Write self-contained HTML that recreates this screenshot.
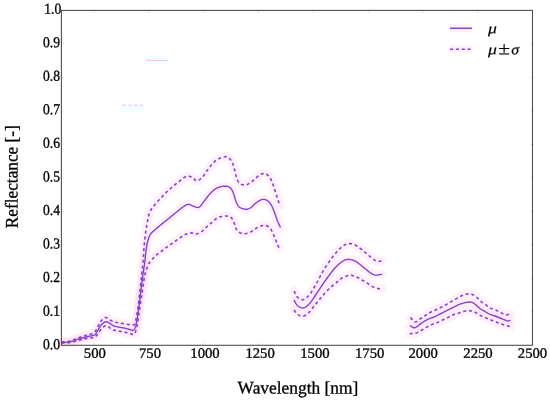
<!DOCTYPE html>
<html><head><meta charset="utf-8"><title>Reflectance</title>
<style>html,body{margin:0;padding:0;background:#fff}svg{display:block}</style></head>
<body>
<svg text-rendering="geometricPrecision" width="550" height="400" viewBox="0 0 550 400">
<rect width="550" height="400" fill="#fff"/>
<g fill="none" stroke="#ffd9f7" stroke-opacity="0.38" stroke-width="9" stroke-linecap="round" stroke-linejoin="round"><path d="M61.50 342.50 L62.32 342.47 L63.16 342.45 L64.00 342.43 L64.84 342.41 L65.67 342.38 L66.48 342.34 L67.26 342.28 L68.00 342.20 L68.70 342.10 L69.36 341.98 L69.98 341.84 L70.59 341.69 L71.19 341.53 L71.79 341.36 L72.39 341.18 L73.00 341.00 L73.62 340.80 L74.25 340.58 L74.88 340.35 L75.50 340.11 L76.12 339.87 L76.75 339.64 L77.38 339.41 L78.00 339.20 L78.62 339.01 L79.25 338.82 L79.88 338.64 L80.50 338.47 L81.12 338.30 L81.75 338.13 L82.38 337.97 L83.00 337.80 L83.62 337.63 L84.25 337.46 L84.88 337.29 L85.50 337.12 L86.12 336.96 L86.75 336.80 L87.38 336.65 L88.00 336.50 L88.64 336.36 L89.31 336.24 L89.98 336.13 L90.66 336.01 L91.31 335.90 L91.93 335.78 L92.49 335.65 L93.00 335.50 L93.43 335.35 L93.80 335.22 L94.12 335.08 L94.41 334.94 L94.67 334.77 L94.93 334.56 L95.20 334.31 L95.50 334.00 L95.81 333.62 L96.12 333.18 L96.44 332.68 L96.75 332.16 L97.06 331.61 L97.38 331.06 L97.69 330.52 L98.00 330.00 L98.31 329.49 L98.62 328.97 L98.94 328.45 L99.25 327.93 L99.56 327.41 L99.88 326.92 L100.19 326.44 L100.50 326.00 L100.81 325.58 L101.11 325.19 L101.42 324.80 L101.72 324.44 L102.03 324.10 L102.34 323.78 L102.66 323.48 L103.00 323.20 L103.35 322.93 L103.71 322.67 L104.09 322.43 L104.47 322.21 L104.85 322.01 L105.24 321.86 L105.62 321.75 L106.00 321.70 L106.37 321.70 L106.73 321.75 L107.08 321.85 L107.44 321.99 L107.80 322.16 L108.18 322.35 L108.58 322.57 L109.00 322.80 L109.45 323.07 L109.91 323.39 L110.38 323.75 L110.88 324.12 L111.38 324.51 L111.91 324.87 L112.45 325.21 L113.00 325.50 L113.57 325.75 L114.16 325.97 L114.76 326.17 L115.38 326.36 L116.01 326.53 L116.66 326.69 L117.32 326.84 L118.00 327.00 L118.70 327.14 L119.43 327.27 L120.18 327.39 L120.94 327.49 L121.71 327.60 L122.48 327.72 L123.24 327.85 L124.00 328.00 L124.77 328.18 L125.57 328.38 L126.38 328.59 L127.19 328.81 L127.97 329.03 L128.71 329.24 L129.39 329.43 L130.00 329.60 L130.53 329.76 L130.98 329.93 L131.39 330.10 L131.75 330.25 L132.08 330.37 L132.39 330.44 L132.69 330.46 L133.00 330.40 L133.30 330.29 L133.57 330.16 L133.82 329.98 L134.06 329.75 L134.29 329.45 L134.52 329.07 L134.76 328.59 L135.00 328.00 L135.25 327.31 L135.50 326.53 L135.75 325.67 L136.00 324.73 L136.25 323.69 L136.50 322.55 L136.75 321.33 L137.00 320.00 L137.25 318.55 L137.50 316.97 L137.75 315.28 L138.00 313.50 L138.25 311.66 L138.50 309.78 L138.75 307.89 L139.00 306.00 L139.25 304.10 L139.50 302.14 L139.75 300.15 L140.00 298.12 L140.25 296.09 L140.50 294.05 L140.75 292.01 L141.00 290.00 L141.25 287.96 L141.51 285.86 L141.77 283.74 L142.03 281.62 L142.29 279.56 L142.54 277.58 L142.77 275.71 L143.00 274.00 L143.21 272.48 L143.41 271.15 L143.60 269.94 L143.78 268.81 L143.96 267.71 L144.14 266.57 L144.32 265.35 L144.50 264.00 L144.69 262.49 L144.88 260.87 L145.06 259.17 L145.25 257.44 L145.44 255.71 L145.62 254.04 L145.81 252.45 L146.00 251.00 L146.18 249.67 L146.35 248.42 L146.52 247.24 L146.69 246.12 L146.86 245.05 L147.05 244.02 L147.26 243.00 L147.50 242.00 L147.76 241.01 L148.04 240.03 L148.34 239.07 L148.66 238.16 L148.98 237.28 L149.32 236.46 L149.66 235.69 L150.00 235.00 L150.32 234.41 L150.62 233.94 L150.91 233.54 L151.22 233.19 L151.56 232.84 L151.96 232.47 L152.43 232.03 L153.00 231.50 L153.68 230.87 L154.45 230.19 L155.29 229.46 L156.19 228.69 L157.13 227.90 L158.09 227.09 L159.05 226.29 L160.00 225.50 L160.95 224.71 L161.93 223.91 L162.93 223.10 L163.94 222.28 L164.96 221.46 L165.98 220.64 L166.99 219.82 L168.00 219.00 L169.01 218.18 L170.02 217.35 L171.04 216.52 L172.06 215.69 L173.07 214.86 L174.07 214.05 L175.05 213.26 L176.00 212.50 L176.94 211.74 L177.87 210.99 L178.79 210.24 L179.69 209.51 L180.57 208.81 L181.41 208.15 L182.23 207.54 L183.00 207.00 L183.72 206.51 L184.39 206.05 L185.02 205.63 L185.62 205.26 L186.21 204.94 L186.80 204.69 L187.39 204.50 L188.00 204.40 L188.63 204.40 L189.27 204.51 L189.92 204.70 L190.56 204.95 L191.20 205.23 L191.82 205.52 L192.42 205.78 L193.00 206.00 L193.55 206.20 L194.09 206.42 L194.62 206.64 L195.12 206.86 L195.62 207.05 L196.09 207.22 L196.55 207.34 L197.00 207.40 L197.41 207.44 L197.77 207.47 L198.11 207.48 L198.44 207.44 L198.77 207.35 L199.13 207.17 L199.54 206.90 L200.00 206.50 L200.53 205.95 L201.11 205.26 L201.73 204.46 L202.38 203.59 L203.04 202.67 L203.70 201.74 L204.36 200.84 L205.00 200.00 L205.62 199.19 L206.25 198.37 L206.88 197.54 L207.50 196.72 L208.12 195.92 L208.75 195.14 L209.38 194.40 L210.00 193.70 L210.62 193.04 L211.25 192.40 L211.88 191.78 L212.50 191.20 L213.12 190.65 L213.75 190.13 L214.38 189.64 L215.00 189.20 L215.62 188.80 L216.25 188.43 L216.88 188.11 L217.50 187.81 L218.12 187.55 L218.75 187.31 L219.38 187.10 L220.00 186.90 L220.63 186.73 L221.27 186.58 L221.92 186.45 L222.56 186.36 L223.20 186.28 L223.82 186.23 L224.42 186.20 L225.00 186.20 L225.55 186.21 L226.09 186.24 L226.62 186.29 L227.12 186.37 L227.62 186.47 L228.09 186.61 L228.55 186.78 L229.00 187.00 L229.43 187.26 L229.84 187.55 L230.24 187.88 L230.62 188.24 L230.99 188.63 L231.34 189.06 L231.68 189.51 L232.00 190.00 L232.30 190.52 L232.57 191.07 L232.82 191.66 L233.06 192.28 L233.29 192.93 L233.52 193.60 L233.76 194.29 L234.00 195.00 L234.25 195.75 L234.49 196.56 L234.73 197.40 L234.97 198.26 L235.21 199.12 L235.46 199.96 L235.73 200.76 L236.00 201.50 L236.28 202.20 L236.57 202.88 L236.86 203.54 L237.16 204.17 L237.47 204.77 L237.79 205.33 L238.14 205.84 L238.50 206.30 L238.88 206.70 L239.28 207.05 L239.70 207.34 L240.12 207.60 L240.57 207.83 L241.03 208.03 L241.51 208.22 L242.00 208.40 L242.51 208.58 L243.05 208.75 L243.61 208.91 L244.19 209.04 L244.77 209.14 L245.35 209.21 L245.93 209.23 L246.50 209.20 L247.07 209.12 L247.64 209.00 L248.21 208.84 L248.78 208.64 L249.35 208.40 L249.91 208.13 L250.46 207.83 L251.00 207.50 L251.52 207.12 L252.01 206.69 L252.49 206.21 L252.97 205.71 L253.45 205.19 L253.94 204.67 L254.46 204.17 L255.00 203.70 L255.58 203.24 L256.20 202.76 L256.85 202.29 L257.50 201.82 L258.15 201.37 L258.80 200.96 L259.42 200.60 L260.00 200.30 L260.55 200.05 L261.07 199.84 L261.57 199.67 L262.06 199.54 L262.54 199.44 L263.02 199.39 L263.51 199.38 L264.00 199.40 L264.50 199.46 L265.01 199.56 L265.52 199.69 L266.03 199.86 L266.54 200.08 L267.04 200.34 L267.52 200.64 L268.00 201.00 L268.46 201.41 L268.92 201.86 L269.37 202.37 L269.81 202.91 L270.25 203.50 L270.67 204.13 L271.09 204.80 L271.50 205.50 L271.90 206.25 L272.29 207.04 L272.66 207.88 L273.03 208.75 L273.40 209.66 L273.76 210.59 L274.13 211.54 L274.50 212.50 L274.88 213.50 L275.25 214.57 L275.62 215.67 L276.00 216.78 L276.38 217.89 L276.75 218.98 L277.12 220.02 L277.50 221.00 L277.88 221.91 L278.25 222.77 L278.62 223.58 L279.00 224.38 L279.38 225.15 L279.75 225.92 L280.12 226.70 L280.50 227.50"/><path d="M61.50 342.00 L62.32 341.94 L63.16 341.90 L64.00 341.86 L64.84 341.81 L65.67 341.76 L66.48 341.70 L67.26 341.61 L68.00 341.50 L68.70 341.36 L69.36 341.21 L69.98 341.03 L70.59 340.84 L71.19 340.64 L71.79 340.43 L72.39 340.22 L73.00 340.00 L73.62 339.77 L74.25 339.53 L74.88 339.27 L75.50 339.01 L76.12 338.75 L76.75 338.49 L77.38 338.24 L78.00 338.00 L78.62 337.77 L79.25 337.55 L79.88 337.33 L80.50 337.12 L81.12 336.91 L81.75 336.70 L82.38 336.50 L83.00 336.30 L83.62 336.10 L84.25 335.91 L84.88 335.72 L85.50 335.54 L86.12 335.35 L86.75 335.17 L87.38 334.99 L88.00 334.80 L88.64 334.62 L89.31 334.44 L89.98 334.27 L90.66 334.10 L91.31 333.92 L91.93 333.73 L92.49 333.53 L93.00 333.30 L93.43 333.07 L93.80 332.83 L94.12 332.59 L94.41 332.34 L94.67 332.06 L94.93 331.75 L95.20 331.40 L95.50 331.00 L95.81 330.54 L96.12 330.03 L96.44 329.47 L96.75 328.89 L97.06 328.28 L97.38 327.68 L97.69 327.08 L98.00 326.50 L98.31 325.93 L98.62 325.34 L98.94 324.75 L99.25 324.16 L99.56 323.58 L99.88 323.02 L100.19 322.49 L100.50 322.00 L100.81 321.54 L101.11 321.11 L101.42 320.70 L101.72 320.31 L102.03 319.95 L102.34 319.61 L102.66 319.29 L103.00 319.00 L103.34 318.71 L103.69 318.43 L104.04 318.15 L104.41 317.91 L104.78 317.70 L105.17 317.56 L105.57 317.49 L106.00 317.50 L106.45 317.63 L106.93 317.86 L107.43 318.18 L107.94 318.54 L108.46 318.94 L108.98 319.33 L109.49 319.69 L110.00 320.00 L110.49 320.26 L110.95 320.51 L111.41 320.75 L111.88 320.98 L112.35 321.20 L112.86 321.41 L113.40 321.61 L114.00 321.80 L114.65 321.98 L115.34 322.14 L116.06 322.29 L116.81 322.44 L117.59 322.58 L118.38 322.71 L119.19 322.85 L120.00 323.00 L120.83 323.15 L121.70 323.31 L122.60 323.47 L123.50 323.63 L124.40 323.78 L125.30 323.93 L126.17 324.07 L127.00 324.20 L127.83 324.34 L128.66 324.49 L129.50 324.65 L130.31 324.80 L131.09 324.92 L131.80 325.01 L132.45 325.04 L133.00 325.00 L133.44 324.93 L133.78 324.86 L134.04 324.76 L134.25 324.61 L134.43 324.39 L134.59 324.06 L134.78 323.60 L135.00 323.00 L135.25 322.25 L135.50 321.38 L135.75 320.40 L136.00 319.31 L136.25 318.12 L136.50 316.84 L136.75 315.46 L137.00 314.00 L137.25 312.43 L137.50 310.74 L137.75 308.95 L138.00 307.06 L138.25 305.11 L138.50 303.10 L138.75 301.06 L139.00 299.00 L139.25 296.90 L139.50 294.73 L139.75 292.51 L140.00 290.25 L140.25 287.96 L140.50 285.64 L140.75 283.32 L141.00 281.00 L141.26 278.64 L141.52 276.20 L141.79 273.73 L142.06 271.25 L142.32 268.80 L142.57 266.42 L142.80 264.14 L143.00 262.00 L143.17 259.99 L143.32 258.08 L143.45 256.25 L143.56 254.50 L143.67 252.81 L143.77 251.17 L143.88 249.57 L144.00 248.00 L144.12 246.47 L144.24 245.02 L144.35 243.61 L144.47 242.25 L144.59 240.92 L144.71 239.61 L144.85 238.31 L145.00 237.00 L145.16 235.70 L145.34 234.41 L145.52 233.13 L145.71 231.88 L145.90 230.63 L146.10 229.41 L146.30 228.20 L146.50 227.00 L146.70 225.81 L146.91 224.62 L147.12 223.44 L147.33 222.28 L147.55 221.15 L147.76 220.05 L147.98 219.00 L148.20 218.00 L148.41 217.06 L148.60 216.16 L148.79 215.31 L148.99 214.50 L149.20 213.72 L149.43 212.96 L149.69 212.22 L150.00 211.50 L150.36 210.80 L150.76 210.13 L151.19 209.49 L151.64 208.88 L152.11 208.27 L152.59 207.68 L153.05 207.09 L153.50 206.50 L153.93 205.91 L154.36 205.33 L154.79 204.75 L155.22 204.19 L155.65 203.63 L156.09 203.08 L156.54 202.54 L157.00 202.00 L157.48 201.48 L157.96 200.98 L158.46 200.49 L158.97 200.00 L159.48 199.51 L159.99 199.02 L160.50 198.52 L161.00 198.00 L161.50 197.46 L161.99 196.90 L162.48 196.33 L162.97 195.75 L163.46 195.17 L163.96 194.60 L164.48 194.04 L165.00 193.50 L165.54 192.98 L166.09 192.46 L166.65 191.96 L167.22 191.47 L167.79 190.98 L168.36 190.49 L168.93 190.00 L169.50 189.50 L170.06 189.00 L170.62 188.49 L171.19 187.98 L171.75 187.47 L172.31 186.96 L172.88 186.46 L173.44 185.98 L174.00 185.50 L174.56 185.04 L175.12 184.59 L175.69 184.16 L176.25 183.73 L176.81 183.31 L177.38 182.88 L177.94 182.44 L178.50 182.00 L179.06 181.54 L179.61 181.06 L180.17 180.57 L180.72 180.07 L181.28 179.59 L181.84 179.13 L182.41 178.70 L183.00 178.30 L183.60 177.92 L184.21 177.53 L184.84 177.15 L185.47 176.79 L186.10 176.49 L186.74 176.24 L187.37 176.07 L188.00 176.00 L188.63 176.04 L189.27 176.17 L189.92 176.39 L190.56 176.67 L191.20 176.99 L191.82 177.33 L192.42 177.67 L193.00 178.00 L193.54 178.38 L194.04 178.84 L194.51 179.36 L194.97 179.88 L195.43 180.34 L195.92 180.72 L196.44 180.95 L197.00 181.00 L197.63 180.84 L198.32 180.52 L199.04 180.06 L199.78 179.50 L200.52 178.88 L201.23 178.23 L201.90 177.60 L202.50 177.00 L203.03 176.42 L203.52 175.81 L203.96 175.18 L204.38 174.53 L204.78 173.88 L205.17 173.24 L205.58 172.61 L206.00 172.00 L206.44 171.41 L206.88 170.84 L207.31 170.28 L207.75 169.72 L208.19 169.17 L208.62 168.61 L209.06 168.06 L209.50 167.50 L209.93 166.93 L210.35 166.35 L210.77 165.77 L211.19 165.19 L211.61 164.61 L212.05 164.05 L212.51 163.51 L213.00 163.00 L213.51 162.51 L214.03 162.03 L214.57 161.57 L215.12 161.12 L215.70 160.70 L216.28 160.28 L216.88 159.88 L217.50 159.50 L218.14 159.12 L218.82 158.74 L219.51 158.37 L220.22 158.02 L220.93 157.70 L221.64 157.41 L222.33 157.18 L223.00 157.00 L223.66 156.86 L224.31 156.75 L224.96 156.68 L225.59 156.64 L226.22 156.67 L226.83 156.76 L227.43 156.94 L228.00 157.20 L228.56 157.58 L229.12 158.06 L229.66 158.63 L230.19 159.27 L230.69 159.95 L231.16 160.64 L231.60 161.34 L232.00 162.00 L232.35 162.65 L232.65 163.31 L232.92 163.99 L233.16 164.68 L233.37 165.37 L233.58 166.07 L233.79 166.78 L234.00 167.50 L234.21 168.23 L234.41 168.98 L234.60 169.74 L234.78 170.50 L234.96 171.26 L235.14 172.02 L235.32 172.77 L235.50 173.50 L235.68 174.22 L235.84 174.93 L236.00 175.64 L236.16 176.34 L236.33 177.03 L236.52 177.71 L236.74 178.36 L237.00 179.00 L237.29 179.63 L237.59 180.27 L237.91 180.89 L238.25 181.50 L238.63 182.08 L239.04 182.61 L239.50 183.09 L240.00 183.50 L240.57 183.86 L241.21 184.18 L241.90 184.46 L242.62 184.69 L243.36 184.86 L244.10 184.98 L244.82 185.02 L245.50 185.00 L246.15 184.89 L246.80 184.68 L247.43 184.40 L248.06 184.06 L248.68 183.69 L249.30 183.29 L249.90 182.89 L250.50 182.50 L251.09 182.11 L251.66 181.71 L252.22 181.28 L252.78 180.84 L253.33 180.39 L253.89 179.93 L254.44 179.47 L255.00 179.00 L255.56 178.51 L256.10 177.98 L256.64 177.43 L257.19 176.88 L257.74 176.34 L258.30 175.84 L258.89 175.38 L259.50 175.00 L260.15 174.66 L260.83 174.33 L261.53 174.03 L262.25 173.78 L262.97 173.59 L263.67 173.46 L264.35 173.43 L265.00 173.50 L265.62 173.69 L266.24 173.99 L266.85 174.38 L267.44 174.84 L268.00 175.36 L268.54 175.90 L269.04 176.46 L269.50 177.00 L269.91 177.55 L270.28 178.13 L270.61 178.74 L270.91 179.38 L271.19 180.02 L271.46 180.68 L271.73 181.34 L272.00 182.00 L272.27 182.66 L272.54 183.33 L272.79 184.00 L273.03 184.69 L273.27 185.38 L273.51 186.08 L273.75 186.79 L274.00 187.50 L274.25 188.22 L274.50 188.95 L274.75 189.69 L275.00 190.44 L275.25 191.19 L275.50 191.95 L275.75 192.72 L276.00 193.50 L276.25 194.29 L276.50 195.10 L276.75 195.92 L277.00 196.75 L277.25 197.58 L277.50 198.40 L277.75 199.21 L278.00 200.00 L278.25 200.77 L278.50 201.54 L278.75 202.29 L279.00 203.03 L279.25 203.77 L279.50 204.51 L279.75 205.25 L280.00 206.00"/><path d="M61.50 343.00 L62.32 342.98 L63.16 342.96 L64.00 342.95 L64.84 342.94 L65.67 342.92 L66.48 342.89 L67.26 342.85 L68.00 342.80 L68.70 342.73 L69.36 342.66 L69.98 342.57 L70.59 342.48 L71.19 342.38 L71.79 342.26 L72.39 342.14 L73.00 342.00 L73.62 341.84 L74.25 341.67 L74.88 341.48 L75.50 341.27 L76.12 341.07 L76.75 340.87 L77.38 340.68 L78.00 340.50 L78.62 340.33 L79.25 340.17 L79.88 340.02 L80.50 339.87 L81.12 339.72 L81.75 339.58 L82.38 339.44 L83.00 339.30 L83.62 339.16 L84.25 339.03 L84.88 338.90 L85.50 338.77 L86.12 338.64 L86.75 338.52 L87.38 338.41 L88.00 338.30 L88.64 338.20 L89.31 338.11 L89.98 338.03 L90.66 337.96 L91.31 337.88 L91.93 337.80 L92.49 337.70 L93.00 337.60 L93.43 337.49 L93.80 337.40 L94.12 337.30 L94.41 337.19 L94.67 337.07 L94.93 336.92 L95.20 336.73 L95.50 336.50 L95.81 336.22 L96.12 335.90 L96.44 335.54 L96.75 335.15 L97.06 334.75 L97.38 334.33 L97.69 333.91 L98.00 333.50 L98.31 333.08 L98.62 332.64 L98.94 332.19 L99.25 331.74 L99.56 331.28 L99.88 330.84 L100.19 330.41 L100.50 330.00 L100.81 329.61 L101.11 329.22 L101.42 328.84 L101.72 328.47 L102.03 328.12 L102.34 327.79 L102.66 327.48 L103.00 327.20 L103.35 326.94 L103.71 326.69 L104.09 326.46 L104.47 326.25 L104.85 326.07 L105.24 325.93 L105.62 325.84 L106.00 325.80 L106.38 325.82 L106.75 325.88 L107.12 326.00 L107.50 326.15 L107.88 326.33 L108.25 326.54 L108.62 326.77 L109.00 327.00 L109.35 327.27 L109.68 327.58 L109.99 327.93 L110.31 328.29 L110.66 328.65 L111.04 329.00 L111.48 329.32 L112.00 329.60 L112.61 329.84 L113.29 330.04 L114.03 330.23 L114.81 330.40 L115.62 330.56 L116.43 330.71 L117.23 330.85 L118.00 331.00 L118.75 331.14 L119.50 331.26 L120.25 331.38 L121.00 331.49 L121.75 331.60 L122.50 331.72 L123.25 331.85 L124.00 332.00 L124.77 332.18 L125.57 332.37 L126.38 332.59 L127.19 332.81 L127.97 333.02 L128.71 333.24 L129.39 333.43 L130.00 333.60 L130.53 333.76 L130.98 333.93 L131.39 334.09 L131.75 334.24 L132.08 334.37 L132.39 334.46 L132.69 334.51 L133.00 334.50 L133.30 334.46 L133.57 334.42 L133.82 334.35 L134.06 334.24 L134.29 334.07 L134.52 333.82 L134.76 333.47 L135.00 333.00 L135.25 332.43 L135.50 331.78 L135.75 331.04 L136.00 330.22 L136.25 329.31 L136.50 328.30 L136.75 327.20 L137.00 326.00 L137.25 324.66 L137.50 323.17 L137.75 321.56 L138.00 319.88 L138.25 318.14 L138.50 316.39 L138.75 314.67 L139.00 313.00 L139.25 311.35 L139.51 309.68 L139.77 307.99 L140.03 306.31 L140.29 304.66 L140.54 303.04 L140.77 301.48 L141.00 300.00 L141.21 298.59 L141.42 297.22 L141.62 295.90 L141.81 294.62 L142.00 293.40 L142.17 292.22 L142.34 291.09 L142.50 290.00 L142.65 289.00 L142.77 288.09 L142.89 287.24 L143.00 286.44 L143.11 285.64 L143.23 284.82 L143.35 283.95 L143.50 283.00 L143.66 281.95 L143.83 280.82 L144.00 279.64 L144.19 278.44 L144.38 277.24 L144.58 276.09 L144.79 275.00 L145.00 274.00 L145.23 273.10 L145.46 272.25 L145.71 271.46 L145.97 270.72 L146.23 270.01 L146.49 269.32 L146.75 268.66 L147.00 268.00 L147.24 267.37 L147.46 266.77 L147.68 266.20 L147.91 265.66 L148.14 265.12 L148.39 264.59 L148.68 264.05 L149.00 263.50 L149.36 262.94 L149.75 262.38 L150.16 261.81 L150.59 261.25 L151.05 260.69 L151.52 260.12 L152.00 259.56 L152.50 259.00 L153.02 258.43 L153.57 257.84 L154.14 257.25 L154.72 256.66 L155.31 256.08 L155.89 255.52 L156.45 254.99 L157.00 254.50 L157.52 254.06 L158.01 253.66 L158.49 253.30 L158.97 252.96 L159.45 252.62 L159.94 252.27 L160.46 251.90 L161.00 251.50 L161.58 251.06 L162.19 250.59 L162.82 250.10 L163.47 249.61 L164.12 249.11 L164.76 248.62 L165.39 248.15 L166.00 247.70 L166.58 247.28 L167.15 246.89 L167.70 246.51 L168.25 246.14 L168.80 245.77 L169.35 245.39 L169.92 245.01 L170.50 244.60 L171.10 244.17 L171.73 243.73 L172.36 243.27 L173.00 242.81 L173.64 242.34 L174.27 241.88 L174.90 241.43 L175.50 241.00 L176.08 240.58 L176.65 240.17 L177.20 239.77 L177.75 239.38 L178.30 238.98 L178.85 238.59 L179.42 238.20 L180.00 237.80 L180.60 237.39 L181.21 236.96 L181.84 236.53 L182.47 236.10 L183.10 235.68 L183.74 235.29 L184.37 234.92 L185.00 234.60 L185.64 234.31 L186.30 234.05 L186.96 233.80 L187.62 233.59 L188.27 233.40 L188.89 233.24 L189.47 233.10 L190.00 233.00 L190.47 232.93 L190.89 232.91 L191.27 232.92 L191.62 232.95 L191.96 233.00 L192.30 233.07 L192.64 233.13 L193.00 233.20 L193.36 233.29 L193.70 233.42 L194.04 233.58 L194.38 233.74 L194.73 233.88 L195.11 233.98 L195.53 234.03 L196.00 234.00 L196.53 233.90 L197.11 233.76 L197.73 233.56 L198.38 233.33 L199.04 233.06 L199.70 232.74 L200.36 232.39 L201.00 232.00 L201.63 231.55 L202.27 231.03 L202.92 230.45 L203.56 229.84 L204.20 229.22 L204.82 228.61 L205.42 228.03 L206.00 227.50 L206.53 227.03 L207.00 226.61 L207.44 226.22 L207.88 225.83 L208.32 225.44 L208.81 225.01 L209.36 224.54 L210.00 224.00 L210.75 223.36 L211.59 222.62 L212.49 221.82 L213.44 220.99 L214.39 220.18 L215.32 219.42 L216.20 218.75 L217.00 218.20 L217.73 217.77 L218.41 217.44 L219.07 217.17 L219.69 216.96 L220.29 216.80 L220.87 216.66 L221.44 216.53 L222.00 216.40 L222.54 216.27 L223.05 216.16 L223.53 216.06 L224.00 215.99 L224.47 215.95 L224.95 215.93 L225.46 215.95 L226.00 216.00 L226.59 216.07 L227.23 216.16 L227.89 216.27 L228.56 216.41 L229.23 216.60 L229.87 216.83 L230.46 217.13 L231.00 217.50 L231.48 217.95 L231.91 218.48 L232.32 219.07 L232.69 219.72 L233.04 220.40 L233.37 221.10 L233.69 221.80 L234.00 222.50 L234.29 223.22 L234.54 223.98 L234.76 224.76 L234.97 225.56 L235.18 226.35 L235.42 227.12 L235.69 227.84 L236.00 228.50 L236.35 229.11 L236.72 229.71 L237.11 230.27 L237.53 230.80 L237.98 231.29 L238.45 231.74 L238.96 232.15 L239.50 232.50 L240.09 232.80 L240.73 233.06 L241.42 233.28 L242.12 233.46 L242.85 233.59 L243.58 233.67 L244.30 233.71 L245.00 233.70 L245.69 233.64 L246.40 233.51 L247.11 233.33 L247.81 233.11 L248.51 232.86 L249.20 232.58 L249.86 232.29 L250.50 232.00 L251.11 231.69 L251.68 231.33 L252.24 230.96 L252.78 230.56 L253.32 230.16 L253.86 229.76 L254.42 229.37 L255.00 229.00 L255.60 228.64 L256.20 228.26 L256.82 227.88 L257.44 227.51 L258.07 227.16 L258.70 226.83 L259.35 226.54 L260.00 226.30 L260.67 226.09 L261.36 225.89 L262.07 225.72 L262.78 225.58 L263.49 225.47 L264.18 225.42 L264.86 225.43 L265.50 225.50 L266.12 225.63 L266.73 225.82 L267.33 226.06 L267.91 226.36 L268.47 226.70 L269.00 227.09 L269.52 227.52 L270.00 228.00 L270.45 228.54 L270.87 229.15 L271.26 229.82 L271.62 230.53 L271.98 231.27 L272.32 232.02 L272.66 232.77 L273.00 233.50 L273.34 234.23 L273.66 234.96 L273.97 235.71 L274.28 236.47 L274.58 237.23 L274.89 237.99 L275.19 238.75 L275.50 239.50 L275.82 240.27 L276.16 241.08 L276.50 241.90 L276.84 242.72 L277.17 243.51 L277.48 244.25 L277.76 244.92 L278.00 245.50 L278.20 245.98 L278.36 246.37 L278.48 246.69 L278.59 246.97 L278.69 247.22 L278.79 247.46 L278.89 247.71 L279.00 248.00"/><path d="M294.00 300.00 L294.37 300.64 L294.73 301.31 L295.08 301.98 L295.44 302.65 L295.80 303.30 L296.18 303.92 L296.58 304.49 L297.00 305.00 L297.45 305.46 L297.93 305.88 L298.43 306.27 L298.94 306.62 L299.46 306.94 L299.98 307.20 L300.49 307.43 L301.00 307.60 L301.49 307.74 L301.98 307.85 L302.46 307.91 L302.94 307.94 L303.43 307.91 L303.93 307.81 L304.45 307.65 L305.00 307.40 L305.58 307.07 L306.18 306.66 L306.80 306.17 L307.44 305.62 L308.08 305.02 L308.73 304.38 L309.37 303.70 L310.00 303.00 L310.59 302.30 L311.13 301.62 L311.66 300.92 L312.19 300.16 L312.76 299.33 L313.40 298.37 L314.14 297.28 L315.00 296.00 L316.01 294.49 L317.15 292.77 L318.38 290.87 L319.69 288.88 L321.03 286.83 L322.38 284.80 L323.72 282.83 L325.00 281.00 L326.26 279.24 L327.55 277.47 L328.84 275.71 L330.12 274.00 L331.40 272.35 L332.64 270.78 L333.85 269.32 L335.00 268.00 L336.11 266.80 L337.19 265.70 L338.23 264.70 L339.25 263.79 L340.23 262.97 L341.19 262.23 L342.11 261.58 L343.00 261.00 L343.85 260.52 L344.64 260.15 L345.40 259.86 L346.12 259.66 L346.84 259.53 L347.55 259.45 L348.26 259.41 L349.00 259.40 L349.76 259.43 L350.52 259.53 L351.29 259.68 L352.06 259.88 L352.82 260.12 L353.57 260.39 L354.30 260.69 L355.00 261.00 L355.67 261.34 L356.32 261.73 L356.95 262.15 L357.56 262.60 L358.17 263.07 L358.77 263.55 L359.38 264.03 L360.00 264.50 L360.62 264.98 L361.25 265.46 L361.88 265.96 L362.50 266.47 L363.12 266.98 L363.75 267.49 L364.38 268.00 L365.00 268.50 L365.62 269.01 L366.25 269.54 L366.88 270.07 L367.50 270.59 L368.12 271.11 L368.75 271.61 L369.38 272.07 L370.00 272.50 L370.63 272.90 L371.27 273.29 L371.92 273.67 L372.56 274.01 L373.20 274.33 L373.82 274.60 L374.42 274.83 L375.00 275.00 L375.55 275.11 L376.09 275.15 L376.62 275.14 L377.12 275.09 L377.62 275.02 L378.09 274.94 L378.55 274.86 L379.00 274.80 L379.42 274.74 L379.82 274.68 L380.20 274.60 L380.56 274.53 L380.92 274.44 L381.27 274.36 L381.63 274.28 L382.00 274.20"/><path d="M294.00 291.00 L294.37 291.72 L294.73 292.47 L295.08 293.22 L295.44 293.98 L295.80 294.71 L296.18 295.40 L296.58 296.03 L297.00 296.60 L297.45 297.11 L297.93 297.57 L298.43 298.00 L298.94 298.38 L299.46 298.71 L299.98 298.99 L300.49 299.22 L301.00 299.40 L301.49 299.53 L301.98 299.63 L302.46 299.69 L302.94 299.69 L303.43 299.63 L303.93 299.50 L304.45 299.29 L305.00 299.00 L305.58 298.62 L306.18 298.14 L306.80 297.59 L307.44 296.98 L308.08 296.30 L308.73 295.57 L309.37 294.80 L310.00 294.00 L310.59 293.21 L311.13 292.45 L311.66 291.66 L312.19 290.81 L312.76 289.86 L313.40 288.77 L314.14 287.50 L315.00 286.00 L316.01 284.20 L317.15 282.11 L318.38 279.81 L319.69 277.38 L321.03 274.90 L322.38 272.45 L323.72 270.13 L325.00 268.00 L326.26 266.02 L327.55 264.08 L328.84 262.19 L330.12 260.38 L331.40 258.63 L332.64 256.98 L333.85 255.44 L335.00 254.00 L336.11 252.67 L337.19 251.45 L338.23 250.31 L339.25 249.28 L340.23 248.33 L341.19 247.47 L342.11 246.69 L343.00 246.00 L343.85 245.41 L344.64 244.92 L345.40 244.52 L346.12 244.21 L346.84 243.98 L347.55 243.80 L348.26 243.68 L349.00 243.60 L349.75 243.58 L350.50 243.62 L351.25 243.73 L352.00 243.90 L352.75 244.12 L353.50 244.38 L354.25 244.67 L355.00 245.00 L355.75 245.37 L356.50 245.79 L357.25 246.27 L358.00 246.78 L358.75 247.31 L359.50 247.87 L360.25 248.43 L361.00 249.00 L361.75 249.58 L362.50 250.18 L363.25 250.80 L364.00 251.44 L364.75 252.08 L365.50 252.73 L366.25 253.37 L367.00 254.00 L367.76 254.64 L368.52 255.31 L369.29 255.99 L370.06 256.66 L370.82 257.32 L371.57 257.93 L372.30 258.50 L373.00 259.00 L373.68 259.45 L374.34 259.86 L374.99 260.23 L375.62 260.56 L376.24 260.85 L376.84 261.09 L377.43 261.27 L378.00 261.40 L378.55 261.45 L379.07 261.42 L379.57 261.33 L380.06 261.20 L380.54 261.04 L381.02 260.88 L381.51 260.72 L382.00 260.60"/><path d="M294.00 310.00 L294.37 310.49 L294.73 310.99 L295.08 311.50 L295.44 312.00 L295.80 312.49 L296.18 312.96 L296.58 313.40 L297.00 313.80 L297.45 314.17 L297.93 314.52 L298.43 314.86 L298.94 315.16 L299.46 315.44 L299.98 315.67 L300.49 315.86 L301.00 316.00 L301.49 316.10 L301.98 316.17 L302.46 316.21 L302.94 316.21 L303.43 316.15 L303.93 316.04 L304.45 315.85 L305.00 315.60 L305.58 315.26 L306.18 314.85 L306.80 314.36 L307.44 313.82 L308.08 313.23 L308.73 312.61 L309.37 311.96 L310.00 311.30 L310.59 310.65 L311.13 310.00 L311.66 309.33 L312.19 308.63 L312.76 307.87 L313.40 307.02 L314.14 306.07 L315.00 305.00 L316.04 303.73 L317.24 302.26 L318.56 300.65 L319.94 298.98 L321.32 297.31 L322.66 295.71 L323.91 294.25 L325.00 293.00 L325.95 291.95 L326.80 291.03 L327.59 290.22 L328.31 289.50 L329.00 288.84 L329.66 288.22 L330.33 287.61 L331.00 287.00 L331.67 286.41 L332.32 285.87 L332.95 285.37 L333.56 284.89 L334.17 284.43 L334.77 283.97 L335.38 283.50 L336.00 283.00 L336.62 282.46 L337.25 281.90 L337.88 281.33 L338.50 280.76 L339.12 280.19 L339.75 279.66 L340.38 279.15 L341.00 278.70 L341.62 278.29 L342.25 277.91 L342.88 277.56 L343.50 277.24 L344.12 276.94 L344.75 276.67 L345.38 276.42 L346.00 276.20 L346.62 275.99 L347.24 275.80 L347.85 275.63 L348.47 275.49 L349.09 275.38 L349.71 275.30 L350.35 275.28 L351.00 275.30 L351.66 275.38 L352.34 275.51 L353.03 275.69 L353.72 275.91 L354.42 276.15 L355.11 276.42 L355.81 276.71 L356.50 277.00 L357.19 277.31 L357.89 277.66 L358.58 278.03 L359.28 278.42 L359.97 278.82 L360.66 279.22 L361.34 279.62 L362.00 280.00 L362.65 280.37 L363.27 280.74 L363.89 281.10 L364.50 281.47 L365.11 281.84 L365.73 282.21 L366.35 282.60 L367.00 283.00 L367.66 283.42 L368.34 283.88 L369.03 284.34 L369.72 284.81 L370.42 285.28 L371.11 285.72 L371.81 286.13 L372.50 286.50 L373.20 286.83 L373.92 287.15 L374.65 287.44 L375.38 287.71 L376.08 287.96 L376.77 288.17 L377.41 288.35 L378.00 288.50 L378.53 288.60 L379.02 288.66 L379.46 288.68 L379.88 288.67 L380.28 288.65 L380.67 288.62 L381.08 288.60 L381.50 288.60"/><path d="M410.00 325.50 L410.56 325.82 L411.12 326.19 L411.69 326.59 L412.25 326.97 L412.81 327.31 L413.38 327.58 L413.94 327.76 L414.50 327.80 L415.06 327.70 L415.61 327.48 L416.17 327.15 L416.72 326.76 L417.28 326.33 L417.84 325.87 L418.41 325.42 L419.00 325.00 L419.60 324.59 L420.21 324.16 L420.84 323.70 L421.47 323.24 L422.10 322.78 L422.74 322.34 L423.37 321.90 L424.00 321.50 L424.62 321.12 L425.25 320.75 L425.88 320.39 L426.50 320.04 L427.12 319.71 L427.75 319.39 L428.38 319.09 L429.00 318.80 L429.62 318.54 L430.23 318.31 L430.83 318.11 L431.44 317.92 L432.05 317.72 L432.68 317.51 L433.33 317.28 L434.00 317.00 L434.70 316.68 L435.43 316.33 L436.18 315.96 L436.94 315.57 L437.71 315.18 L438.48 314.78 L439.24 314.38 L440.00 314.00 L440.75 313.62 L441.50 313.25 L442.25 312.88 L443.00 312.50 L443.75 312.12 L444.50 311.75 L445.25 311.38 L446.00 311.00 L446.76 310.62 L447.52 310.24 L448.29 309.85 L449.06 309.47 L449.82 309.09 L450.57 308.71 L451.30 308.35 L452.00 308.00 L452.67 307.66 L453.32 307.33 L453.95 307.00 L454.56 306.69 L455.17 306.38 L455.77 306.08 L456.38 305.79 L457.00 305.50 L457.62 305.22 L458.25 304.95 L458.88 304.68 L459.50 304.42 L460.12 304.17 L460.75 303.93 L461.38 303.71 L462.00 303.50 L462.62 303.30 L463.25 303.12 L463.88 302.94 L464.50 302.77 L465.12 302.63 L465.75 302.50 L466.38 302.39 L467.00 302.30 L467.63 302.22 L468.27 302.15 L468.92 302.09 L469.56 302.06 L470.20 302.05 L470.82 302.08 L471.42 302.16 L472.00 302.30 L472.55 302.50 L473.07 302.77 L473.57 303.08 L474.06 303.43 L474.54 303.81 L475.02 304.21 L475.51 304.61 L476.00 305.00 L476.49 305.40 L476.98 305.83 L477.46 306.28 L477.94 306.73 L478.43 307.19 L478.93 307.64 L479.45 308.08 L480.00 308.50 L480.58 308.90 L481.18 309.29 L481.80 309.67 L482.44 310.04 L483.08 310.41 L483.73 310.78 L484.37 311.14 L485.00 311.50 L485.62 311.87 L486.25 312.24 L486.88 312.61 L487.50 312.98 L488.12 313.34 L488.75 313.68 L489.38 314.00 L490.00 314.30 L490.62 314.56 L491.25 314.80 L491.88 315.00 L492.50 315.20 L493.12 315.39 L493.75 315.58 L494.38 315.78 L495.00 316.00 L495.62 316.24 L496.25 316.48 L496.88 316.73 L497.50 316.98 L498.12 317.24 L498.75 317.49 L499.38 317.75 L500.00 318.00 L500.64 318.26 L501.30 318.52 L501.96 318.79 L502.62 319.06 L503.27 319.32 L503.89 319.57 L504.47 319.80 L505.00 320.00 L505.47 320.19 L505.90 320.36 L506.29 320.53 L506.65 320.68 L506.99 320.80 L507.32 320.90 L507.66 320.97 L508.00 321.00 L508.34 320.99 L508.68 320.93 L509.00 320.83 L509.32 320.71 L509.64 320.58 L509.96 320.44 L510.28 320.31 L510.60 320.20"/><path d="M410.50 317.50 L411.06 318.11 L411.61 318.80 L412.17 319.52 L412.72 320.22 L413.28 320.86 L413.84 321.40 L414.41 321.80 L415.00 322.00 L415.60 321.98 L416.23 321.78 L416.86 321.42 L417.50 320.97 L418.14 320.45 L418.77 319.93 L419.40 319.43 L420.00 319.00 L420.59 318.62 L421.16 318.25 L421.72 317.88 L422.28 317.50 L422.83 317.12 L423.39 316.75 L423.94 316.38 L424.50 316.00 L425.06 315.62 L425.60 315.24 L426.14 314.85 L426.69 314.47 L427.24 314.09 L427.80 313.71 L428.39 313.35 L429.00 313.00 L429.64 312.66 L430.30 312.34 L430.99 312.03 L431.69 311.73 L432.39 311.43 L433.10 311.13 L433.81 310.82 L434.50 310.50 L435.19 310.17 L435.88 309.84 L436.56 309.51 L437.25 309.17 L437.94 308.83 L438.62 308.49 L439.31 308.14 L440.00 307.80 L440.69 307.46 L441.39 307.11 L442.08 306.77 L442.78 306.42 L443.47 306.07 L444.16 305.72 L444.84 305.36 L445.50 305.00 L446.15 304.63 L446.79 304.26 L447.41 303.88 L448.03 303.50 L448.65 303.12 L449.26 302.74 L449.88 302.37 L450.50 302.00 L451.14 301.64 L451.79 301.27 L452.44 300.91 L453.09 300.55 L453.73 300.20 L454.36 299.85 L454.95 299.52 L455.50 299.20 L455.99 298.90 L456.42 298.61 L456.81 298.34 L457.19 298.08 L457.57 297.82 L457.98 297.56 L458.45 297.29 L459.00 297.00 L459.63 296.69 L460.32 296.35 L461.07 296.00 L461.84 295.64 L462.64 295.30 L463.44 294.99 L464.23 294.72 L465.00 294.50 L465.76 294.32 L466.52 294.16 L467.29 294.02 L468.06 293.92 L468.82 293.86 L469.57 293.85 L470.30 293.89 L471.00 294.00 L471.67 294.18 L472.32 294.42 L472.95 294.72 L473.56 295.08 L474.17 295.47 L474.77 295.89 L475.38 296.34 L476.00 296.80 L476.63 297.31 L477.26 297.88 L477.90 298.50 L478.53 299.14 L479.16 299.78 L479.79 300.40 L480.40 300.98 L481.00 301.50 L481.59 301.95 L482.16 302.36 L482.72 302.73 L483.28 303.07 L483.83 303.41 L484.39 303.75 L484.94 304.11 L485.50 304.50 L486.06 304.92 L486.60 305.38 L487.14 305.84 L487.69 306.31 L488.24 306.78 L488.80 307.22 L489.39 307.63 L490.00 308.00 L490.64 308.32 L491.32 308.59 L492.01 308.84 L492.72 309.06 L493.43 309.28 L494.14 309.50 L494.83 309.74 L495.50 310.00 L496.15 310.29 L496.79 310.59 L497.41 310.91 L498.03 311.23 L498.65 311.56 L499.26 311.88 L499.88 312.19 L500.50 312.50 L501.13 312.82 L501.75 313.16 L502.38 313.51 L503.01 313.86 L503.63 314.17 L504.26 314.45 L504.88 314.66 L505.50 314.80 L506.12 314.85 L506.73 314.82 L507.34 314.73 L507.96 314.59 L508.57 314.44 L509.18 314.27 L509.79 314.12 L510.40 314.00"/><path d="M410.00 334.40 L410.09 334.30 L410.13 334.20 L410.16 334.10 L410.19 334.00 L410.26 333.90 L410.40 333.80 L410.64 333.70 L411.00 333.60 L411.52 333.51 L412.17 333.45 L412.93 333.39 L413.75 333.33 L414.60 333.25 L415.45 333.14 L416.26 333.00 L417.00 332.80 L417.67 332.55 L418.32 332.25 L418.95 331.91 L419.56 331.54 L420.17 331.15 L420.77 330.76 L421.38 330.37 L422.00 330.00 L422.62 329.63 L423.25 329.25 L423.88 328.87 L424.50 328.48 L425.12 328.10 L425.75 327.72 L426.38 327.35 L427.00 327.00 L427.62 326.66 L428.24 326.33 L428.85 326.00 L429.47 325.69 L430.09 325.38 L430.71 325.08 L431.35 324.79 L432.00 324.50 L432.66 324.23 L433.34 323.98 L434.03 323.74 L434.72 323.51 L435.42 323.28 L436.11 323.04 L436.81 322.78 L437.50 322.50 L438.19 322.20 L438.88 321.87 L439.56 321.53 L440.25 321.19 L440.94 320.84 L441.62 320.48 L442.31 320.14 L443.00 319.80 L443.69 319.47 L444.38 319.15 L445.06 318.82 L445.75 318.50 L446.44 318.18 L447.12 317.85 L447.81 317.53 L448.50 317.20 L449.19 316.86 L449.89 316.50 L450.58 316.14 L451.28 315.78 L451.97 315.43 L452.66 315.09 L453.34 314.78 L454.00 314.50 L454.65 314.26 L455.27 314.05 L455.89 313.86 L456.50 313.69 L457.11 313.53 L457.73 313.37 L458.35 313.19 L459.00 313.00 L459.66 312.78 L460.34 312.54 L461.03 312.29 L461.72 312.04 L462.42 311.79 L463.11 311.57 L463.81 311.36 L464.50 311.20 L465.19 311.06 L465.88 310.93 L466.56 310.82 L467.25 310.73 L467.94 310.66 L468.62 310.63 L469.31 310.64 L470.00 310.70 L470.69 310.81 L471.39 310.96 L472.08 311.15 L472.78 311.38 L473.47 311.64 L474.16 311.91 L474.84 312.20 L475.50 312.50 L476.15 312.82 L476.77 313.18 L477.39 313.56 L478.00 313.96 L478.61 314.36 L479.23 314.76 L479.85 315.14 L480.50 315.50 L481.17 315.84 L481.85 316.17 L482.55 316.50 L483.25 316.81 L483.95 317.12 L484.65 317.42 L485.33 317.71 L486.00 318.00 L486.65 318.27 L487.27 318.53 L487.89 318.78 L488.50 319.02 L489.11 319.26 L489.73 319.50 L490.35 319.74 L491.00 320.00 L491.66 320.27 L492.34 320.54 L493.03 320.82 L493.72 321.10 L494.42 321.38 L495.11 321.66 L495.81 321.93 L496.50 322.20 L497.18 322.46 L497.86 322.72 L498.54 322.97 L499.22 323.23 L499.90 323.47 L500.59 323.72 L501.29 323.96 L502.00 324.20 L502.75 324.44 L503.55 324.69 L504.37 324.94 L505.19 325.19 L505.99 325.42 L506.74 325.64 L507.42 325.83 L508.00 326.00 L508.47 326.13 L508.85 326.23 L509.16 326.31 L509.43 326.38 L509.66 326.43 L509.88 326.48 L510.12 326.53 L510.40 326.60"/></g>
<rect x="144" y="56" width="24" height="8" fill="#f2ffff"/><rect x="120" y="104" width="24" height="8" fill="#f2ffff"/>
<line x1="146" y1="60.4" x2="168" y2="60.4" stroke="#ffacf3" stroke-width="0.9"/>
<line x1="122.6" y1="105.2" x2="144" y2="105.2" stroke="#ffacf3" stroke-width="0.9" stroke-dasharray="3.1 2.75"/>
<g fill="none" stroke="#8443cc" stroke-width="1.4" stroke-linejoin="round">
<path d="M61.50 342.50 L62.32 342.47 L63.16 342.45 L64.00 342.43 L64.84 342.41 L65.67 342.38 L66.48 342.34 L67.26 342.28 L68.00 342.20 L68.70 342.10 L69.36 341.98 L69.98 341.84 L70.59 341.69 L71.19 341.53 L71.79 341.36 L72.39 341.18 L73.00 341.00 L73.62 340.80 L74.25 340.58 L74.88 340.35 L75.50 340.11 L76.12 339.87 L76.75 339.64 L77.38 339.41 L78.00 339.20 L78.62 339.01 L79.25 338.82 L79.88 338.64 L80.50 338.47 L81.12 338.30 L81.75 338.13 L82.38 337.97 L83.00 337.80 L83.62 337.63 L84.25 337.46 L84.88 337.29 L85.50 337.12 L86.12 336.96 L86.75 336.80 L87.38 336.65 L88.00 336.50 L88.64 336.36 L89.31 336.24 L89.98 336.13 L90.66 336.01 L91.31 335.90 L91.93 335.78 L92.49 335.65 L93.00 335.50 L93.43 335.35 L93.80 335.22 L94.12 335.08 L94.41 334.94 L94.67 334.77 L94.93 334.56 L95.20 334.31 L95.50 334.00 L95.81 333.62 L96.12 333.18 L96.44 332.68 L96.75 332.16 L97.06 331.61 L97.38 331.06 L97.69 330.52 L98.00 330.00 L98.31 329.49 L98.62 328.97 L98.94 328.45 L99.25 327.93 L99.56 327.41 L99.88 326.92 L100.19 326.44 L100.50 326.00 L100.81 325.58 L101.11 325.19 L101.42 324.80 L101.72 324.44 L102.03 324.10 L102.34 323.78 L102.66 323.48 L103.00 323.20 L103.35 322.93 L103.71 322.67 L104.09 322.43 L104.47 322.21 L104.85 322.01 L105.24 321.86 L105.62 321.75 L106.00 321.70 L106.37 321.70 L106.73 321.75 L107.08 321.85 L107.44 321.99 L107.80 322.16 L108.18 322.35 L108.58 322.57 L109.00 322.80 L109.45 323.07 L109.91 323.39 L110.38 323.75 L110.88 324.12 L111.38 324.51 L111.91 324.87 L112.45 325.21 L113.00 325.50 L113.57 325.75 L114.16 325.97 L114.76 326.17 L115.38 326.36 L116.01 326.53 L116.66 326.69 L117.32 326.84 L118.00 327.00 L118.70 327.14 L119.43 327.27 L120.18 327.39 L120.94 327.49 L121.71 327.60 L122.48 327.72 L123.24 327.85 L124.00 328.00 L124.77 328.18 L125.57 328.38 L126.38 328.59 L127.19 328.81 L127.97 329.03 L128.71 329.24 L129.39 329.43 L130.00 329.60 L130.53 329.76 L130.98 329.93 L131.39 330.10 L131.75 330.25 L132.08 330.37 L132.39 330.44 L132.69 330.46 L133.00 330.40 L133.30 330.29 L133.57 330.16 L133.82 329.98 L134.06 329.75 L134.29 329.45 L134.52 329.07 L134.76 328.59 L135.00 328.00 L135.25 327.31 L135.50 326.53 L135.75 325.67 L136.00 324.73 L136.25 323.69 L136.50 322.55 L136.75 321.33 L137.00 320.00 L137.25 318.55 L137.50 316.97 L137.75 315.28 L138.00 313.50 L138.25 311.66 L138.50 309.78 L138.75 307.89 L139.00 306.00 L139.25 304.10 L139.50 302.14 L139.75 300.15 L140.00 298.12 L140.25 296.09 L140.50 294.05 L140.75 292.01 L141.00 290.00 L141.25 287.96 L141.51 285.86 L141.77 283.74 L142.03 281.62 L142.29 279.56 L142.54 277.58 L142.77 275.71 L143.00 274.00 L143.21 272.48 L143.41 271.15 L143.60 269.94 L143.78 268.81 L143.96 267.71 L144.14 266.57 L144.32 265.35 L144.50 264.00 L144.69 262.49 L144.88 260.87 L145.06 259.17 L145.25 257.44 L145.44 255.71 L145.62 254.04 L145.81 252.45 L146.00 251.00 L146.18 249.67 L146.35 248.42 L146.52 247.24 L146.69 246.12 L146.86 245.05 L147.05 244.02 L147.26 243.00 L147.50 242.00 L147.76 241.01 L148.04 240.03 L148.34 239.07 L148.66 238.16 L148.98 237.28 L149.32 236.46 L149.66 235.69 L150.00 235.00 L150.32 234.41 L150.62 233.94 L150.91 233.54 L151.22 233.19 L151.56 232.84 L151.96 232.47 L152.43 232.03 L153.00 231.50 L153.68 230.87 L154.45 230.19 L155.29 229.46 L156.19 228.69 L157.13 227.90 L158.09 227.09 L159.05 226.29 L160.00 225.50 L160.95 224.71 L161.93 223.91 L162.93 223.10 L163.94 222.28 L164.96 221.46 L165.98 220.64 L166.99 219.82 L168.00 219.00 L169.01 218.18 L170.02 217.35 L171.04 216.52 L172.06 215.69 L173.07 214.86 L174.07 214.05 L175.05 213.26 L176.00 212.50 L176.94 211.74 L177.87 210.99 L178.79 210.24 L179.69 209.51 L180.57 208.81 L181.41 208.15 L182.23 207.54 L183.00 207.00 L183.72 206.51 L184.39 206.05 L185.02 205.63 L185.62 205.26 L186.21 204.94 L186.80 204.69 L187.39 204.50 L188.00 204.40 L188.63 204.40 L189.27 204.51 L189.92 204.70 L190.56 204.95 L191.20 205.23 L191.82 205.52 L192.42 205.78 L193.00 206.00 L193.55 206.20 L194.09 206.42 L194.62 206.64 L195.12 206.86 L195.62 207.05 L196.09 207.22 L196.55 207.34 L197.00 207.40 L197.41 207.44 L197.77 207.47 L198.11 207.48 L198.44 207.44 L198.77 207.35 L199.13 207.17 L199.54 206.90 L200.00 206.50 L200.53 205.95 L201.11 205.26 L201.73 204.46 L202.38 203.59 L203.04 202.67 L203.70 201.74 L204.36 200.84 L205.00 200.00 L205.62 199.19 L206.25 198.37 L206.88 197.54 L207.50 196.72 L208.12 195.92 L208.75 195.14 L209.38 194.40 L210.00 193.70 L210.62 193.04 L211.25 192.40 L211.88 191.78 L212.50 191.20 L213.12 190.65 L213.75 190.13 L214.38 189.64 L215.00 189.20 L215.62 188.80 L216.25 188.43 L216.88 188.11 L217.50 187.81 L218.12 187.55 L218.75 187.31 L219.38 187.10 L220.00 186.90 L220.63 186.73 L221.27 186.58 L221.92 186.45 L222.56 186.36 L223.20 186.28 L223.82 186.23 L224.42 186.20 L225.00 186.20 L225.55 186.21 L226.09 186.24 L226.62 186.29 L227.12 186.37 L227.62 186.47 L228.09 186.61 L228.55 186.78 L229.00 187.00 L229.43 187.26 L229.84 187.55 L230.24 187.88 L230.62 188.24 L230.99 188.63 L231.34 189.06 L231.68 189.51 L232.00 190.00 L232.30 190.52 L232.57 191.07 L232.82 191.66 L233.06 192.28 L233.29 192.93 L233.52 193.60 L233.76 194.29 L234.00 195.00 L234.25 195.75 L234.49 196.56 L234.73 197.40 L234.97 198.26 L235.21 199.12 L235.46 199.96 L235.73 200.76 L236.00 201.50 L236.28 202.20 L236.57 202.88 L236.86 203.54 L237.16 204.17 L237.47 204.77 L237.79 205.33 L238.14 205.84 L238.50 206.30 L238.88 206.70 L239.28 207.05 L239.70 207.34 L240.12 207.60 L240.57 207.83 L241.03 208.03 L241.51 208.22 L242.00 208.40 L242.51 208.58 L243.05 208.75 L243.61 208.91 L244.19 209.04 L244.77 209.14 L245.35 209.21 L245.93 209.23 L246.50 209.20 L247.07 209.12 L247.64 209.00 L248.21 208.84 L248.78 208.64 L249.35 208.40 L249.91 208.13 L250.46 207.83 L251.00 207.50 L251.52 207.12 L252.01 206.69 L252.49 206.21 L252.97 205.71 L253.45 205.19 L253.94 204.67 L254.46 204.17 L255.00 203.70 L255.58 203.24 L256.20 202.76 L256.85 202.29 L257.50 201.82 L258.15 201.37 L258.80 200.96 L259.42 200.60 L260.00 200.30 L260.55 200.05 L261.07 199.84 L261.57 199.67 L262.06 199.54 L262.54 199.44 L263.02 199.39 L263.51 199.38 L264.00 199.40 L264.50 199.46 L265.01 199.56 L265.52 199.69 L266.03 199.86 L266.54 200.08 L267.04 200.34 L267.52 200.64 L268.00 201.00 L268.46 201.41 L268.92 201.86 L269.37 202.37 L269.81 202.91 L270.25 203.50 L270.67 204.13 L271.09 204.80 L271.50 205.50 L271.90 206.25 L272.29 207.04 L272.66 207.88 L273.03 208.75 L273.40 209.66 L273.76 210.59 L274.13 211.54 L274.50 212.50 L274.88 213.50 L275.25 214.57 L275.62 215.67 L276.00 216.78 L276.38 217.89 L276.75 218.98 L277.12 220.02 L277.50 221.00 L277.88 221.91 L278.25 222.77 L278.62 223.58 L279.00 224.38 L279.38 225.15 L279.75 225.92 L280.12 226.70 L280.50 227.50"/>
<path d="M294.00 300.00 L294.37 300.64 L294.73 301.31 L295.08 301.98 L295.44 302.65 L295.80 303.30 L296.18 303.92 L296.58 304.49 L297.00 305.00 L297.45 305.46 L297.93 305.88 L298.43 306.27 L298.94 306.62 L299.46 306.94 L299.98 307.20 L300.49 307.43 L301.00 307.60 L301.49 307.74 L301.98 307.85 L302.46 307.91 L302.94 307.94 L303.43 307.91 L303.93 307.81 L304.45 307.65 L305.00 307.40 L305.58 307.07 L306.18 306.66 L306.80 306.17 L307.44 305.62 L308.08 305.02 L308.73 304.38 L309.37 303.70 L310.00 303.00 L310.59 302.30 L311.13 301.62 L311.66 300.92 L312.19 300.16 L312.76 299.33 L313.40 298.37 L314.14 297.28 L315.00 296.00 L316.01 294.49 L317.15 292.77 L318.38 290.87 L319.69 288.88 L321.03 286.83 L322.38 284.80 L323.72 282.83 L325.00 281.00 L326.26 279.24 L327.55 277.47 L328.84 275.71 L330.12 274.00 L331.40 272.35 L332.64 270.78 L333.85 269.32 L335.00 268.00 L336.11 266.80 L337.19 265.70 L338.23 264.70 L339.25 263.79 L340.23 262.97 L341.19 262.23 L342.11 261.58 L343.00 261.00 L343.85 260.52 L344.64 260.15 L345.40 259.86 L346.12 259.66 L346.84 259.53 L347.55 259.45 L348.26 259.41 L349.00 259.40 L349.76 259.43 L350.52 259.53 L351.29 259.68 L352.06 259.88 L352.82 260.12 L353.57 260.39 L354.30 260.69 L355.00 261.00 L355.67 261.34 L356.32 261.73 L356.95 262.15 L357.56 262.60 L358.17 263.07 L358.77 263.55 L359.38 264.03 L360.00 264.50 L360.62 264.98 L361.25 265.46 L361.88 265.96 L362.50 266.47 L363.12 266.98 L363.75 267.49 L364.38 268.00 L365.00 268.50 L365.62 269.01 L366.25 269.54 L366.88 270.07 L367.50 270.59 L368.12 271.11 L368.75 271.61 L369.38 272.07 L370.00 272.50 L370.63 272.90 L371.27 273.29 L371.92 273.67 L372.56 274.01 L373.20 274.33 L373.82 274.60 L374.42 274.83 L375.00 275.00 L375.55 275.11 L376.09 275.15 L376.62 275.14 L377.12 275.09 L377.62 275.02 L378.09 274.94 L378.55 274.86 L379.00 274.80 L379.42 274.74 L379.82 274.68 L380.20 274.60 L380.56 274.53 L380.92 274.44 L381.27 274.36 L381.63 274.28 L382.00 274.20"/>
<path d="M410.00 325.50 L410.56 325.82 L411.12 326.19 L411.69 326.59 L412.25 326.97 L412.81 327.31 L413.38 327.58 L413.94 327.76 L414.50 327.80 L415.06 327.70 L415.61 327.48 L416.17 327.15 L416.72 326.76 L417.28 326.33 L417.84 325.87 L418.41 325.42 L419.00 325.00 L419.60 324.59 L420.21 324.16 L420.84 323.70 L421.47 323.24 L422.10 322.78 L422.74 322.34 L423.37 321.90 L424.00 321.50 L424.62 321.12 L425.25 320.75 L425.88 320.39 L426.50 320.04 L427.12 319.71 L427.75 319.39 L428.38 319.09 L429.00 318.80 L429.62 318.54 L430.23 318.31 L430.83 318.11 L431.44 317.92 L432.05 317.72 L432.68 317.51 L433.33 317.28 L434.00 317.00 L434.70 316.68 L435.43 316.33 L436.18 315.96 L436.94 315.57 L437.71 315.18 L438.48 314.78 L439.24 314.38 L440.00 314.00 L440.75 313.62 L441.50 313.25 L442.25 312.88 L443.00 312.50 L443.75 312.12 L444.50 311.75 L445.25 311.38 L446.00 311.00 L446.76 310.62 L447.52 310.24 L448.29 309.85 L449.06 309.47 L449.82 309.09 L450.57 308.71 L451.30 308.35 L452.00 308.00 L452.67 307.66 L453.32 307.33 L453.95 307.00 L454.56 306.69 L455.17 306.38 L455.77 306.08 L456.38 305.79 L457.00 305.50 L457.62 305.22 L458.25 304.95 L458.88 304.68 L459.50 304.42 L460.12 304.17 L460.75 303.93 L461.38 303.71 L462.00 303.50 L462.62 303.30 L463.25 303.12 L463.88 302.94 L464.50 302.77 L465.12 302.63 L465.75 302.50 L466.38 302.39 L467.00 302.30 L467.63 302.22 L468.27 302.15 L468.92 302.09 L469.56 302.06 L470.20 302.05 L470.82 302.08 L471.42 302.16 L472.00 302.30 L472.55 302.50 L473.07 302.77 L473.57 303.08 L474.06 303.43 L474.54 303.81 L475.02 304.21 L475.51 304.61 L476.00 305.00 L476.49 305.40 L476.98 305.83 L477.46 306.28 L477.94 306.73 L478.43 307.19 L478.93 307.64 L479.45 308.08 L480.00 308.50 L480.58 308.90 L481.18 309.29 L481.80 309.67 L482.44 310.04 L483.08 310.41 L483.73 310.78 L484.37 311.14 L485.00 311.50 L485.62 311.87 L486.25 312.24 L486.88 312.61 L487.50 312.98 L488.12 313.34 L488.75 313.68 L489.38 314.00 L490.00 314.30 L490.62 314.56 L491.25 314.80 L491.88 315.00 L492.50 315.20 L493.12 315.39 L493.75 315.58 L494.38 315.78 L495.00 316.00 L495.62 316.24 L496.25 316.48 L496.88 316.73 L497.50 316.98 L498.12 317.24 L498.75 317.49 L499.38 317.75 L500.00 318.00 L500.64 318.26 L501.30 318.52 L501.96 318.79 L502.62 319.06 L503.27 319.32 L503.89 319.57 L504.47 319.80 L505.00 320.00 L505.47 320.19 L505.90 320.36 L506.29 320.53 L506.65 320.68 L506.99 320.80 L507.32 320.90 L507.66 320.97 L508.00 321.00 L508.34 320.99 L508.68 320.93 L509.00 320.83 L509.32 320.71 L509.64 320.58 L509.96 320.44 L510.28 320.31 L510.60 320.20"/>
</g>
<g fill="none" stroke="#8443cc" stroke-width="1.6" stroke-dasharray="3.1 2.75" stroke-linejoin="round">
<path d="M61.50 342.00 L62.32 341.94 L63.16 341.90 L64.00 341.86 L64.84 341.81 L65.67 341.76 L66.48 341.70 L67.26 341.61 L68.00 341.50 L68.70 341.36 L69.36 341.21 L69.98 341.03 L70.59 340.84 L71.19 340.64 L71.79 340.43 L72.39 340.22 L73.00 340.00 L73.62 339.77 L74.25 339.53 L74.88 339.27 L75.50 339.01 L76.12 338.75 L76.75 338.49 L77.38 338.24 L78.00 338.00 L78.62 337.77 L79.25 337.55 L79.88 337.33 L80.50 337.12 L81.12 336.91 L81.75 336.70 L82.38 336.50 L83.00 336.30 L83.62 336.10 L84.25 335.91 L84.88 335.72 L85.50 335.54 L86.12 335.35 L86.75 335.17 L87.38 334.99 L88.00 334.80 L88.64 334.62 L89.31 334.44 L89.98 334.27 L90.66 334.10 L91.31 333.92 L91.93 333.73 L92.49 333.53 L93.00 333.30 L93.43 333.07 L93.80 332.83 L94.12 332.59 L94.41 332.34 L94.67 332.06 L94.93 331.75 L95.20 331.40 L95.50 331.00 L95.81 330.54 L96.12 330.03 L96.44 329.47 L96.75 328.89 L97.06 328.28 L97.38 327.68 L97.69 327.08 L98.00 326.50 L98.31 325.93 L98.62 325.34 L98.94 324.75 L99.25 324.16 L99.56 323.58 L99.88 323.02 L100.19 322.49 L100.50 322.00 L100.81 321.54 L101.11 321.11 L101.42 320.70 L101.72 320.31 L102.03 319.95 L102.34 319.61 L102.66 319.29 L103.00 319.00 L103.34 318.71 L103.69 318.43 L104.04 318.15 L104.41 317.91 L104.78 317.70 L105.17 317.56 L105.57 317.49 L106.00 317.50 L106.45 317.63 L106.93 317.86 L107.43 318.18 L107.94 318.54 L108.46 318.94 L108.98 319.33 L109.49 319.69 L110.00 320.00 L110.49 320.26 L110.95 320.51 L111.41 320.75 L111.88 320.98 L112.35 321.20 L112.86 321.41 L113.40 321.61 L114.00 321.80 L114.65 321.98 L115.34 322.14 L116.06 322.29 L116.81 322.44 L117.59 322.58 L118.38 322.71 L119.19 322.85 L120.00 323.00 L120.83 323.15 L121.70 323.31 L122.60 323.47 L123.50 323.63 L124.40 323.78 L125.30 323.93 L126.17 324.07 L127.00 324.20 L127.83 324.34 L128.66 324.49 L129.50 324.65 L130.31 324.80 L131.09 324.92 L131.80 325.01 L132.45 325.04 L133.00 325.00 L133.44 324.93 L133.78 324.86 L134.04 324.76 L134.25 324.61 L134.43 324.39 L134.59 324.06 L134.78 323.60 L135.00 323.00 L135.25 322.25 L135.50 321.38 L135.75 320.40 L136.00 319.31 L136.25 318.12 L136.50 316.84 L136.75 315.46 L137.00 314.00 L137.25 312.43 L137.50 310.74 L137.75 308.95 L138.00 307.06 L138.25 305.11 L138.50 303.10 L138.75 301.06 L139.00 299.00 L139.25 296.90 L139.50 294.73 L139.75 292.51 L140.00 290.25 L140.25 287.96 L140.50 285.64 L140.75 283.32 L141.00 281.00 L141.26 278.64 L141.52 276.20 L141.79 273.73 L142.06 271.25 L142.32 268.80 L142.57 266.42 L142.80 264.14 L143.00 262.00 L143.17 259.99 L143.32 258.08 L143.45 256.25 L143.56 254.50 L143.67 252.81 L143.77 251.17 L143.88 249.57 L144.00 248.00 L144.12 246.47 L144.24 245.02 L144.35 243.61 L144.47 242.25 L144.59 240.92 L144.71 239.61 L144.85 238.31 L145.00 237.00 L145.16 235.70 L145.34 234.41 L145.52 233.13 L145.71 231.88 L145.90 230.63 L146.10 229.41 L146.30 228.20 L146.50 227.00 L146.70 225.81 L146.91 224.62 L147.12 223.44 L147.33 222.28 L147.55 221.15 L147.76 220.05 L147.98 219.00 L148.20 218.00 L148.41 217.06 L148.60 216.16 L148.79 215.31 L148.99 214.50 L149.20 213.72 L149.43 212.96 L149.69 212.22 L150.00 211.50 L150.36 210.80 L150.76 210.13 L151.19 209.49 L151.64 208.88 L152.11 208.27 L152.59 207.68 L153.05 207.09 L153.50 206.50 L153.93 205.91 L154.36 205.33 L154.79 204.75 L155.22 204.19 L155.65 203.63 L156.09 203.08 L156.54 202.54 L157.00 202.00 L157.48 201.48 L157.96 200.98 L158.46 200.49 L158.97 200.00 L159.48 199.51 L159.99 199.02 L160.50 198.52 L161.00 198.00 L161.50 197.46 L161.99 196.90 L162.48 196.33 L162.97 195.75 L163.46 195.17 L163.96 194.60 L164.48 194.04 L165.00 193.50 L165.54 192.98 L166.09 192.46 L166.65 191.96 L167.22 191.47 L167.79 190.98 L168.36 190.49 L168.93 190.00 L169.50 189.50 L170.06 189.00 L170.62 188.49 L171.19 187.98 L171.75 187.47 L172.31 186.96 L172.88 186.46 L173.44 185.98 L174.00 185.50 L174.56 185.04 L175.12 184.59 L175.69 184.16 L176.25 183.73 L176.81 183.31 L177.38 182.88 L177.94 182.44 L178.50 182.00 L179.06 181.54 L179.61 181.06 L180.17 180.57 L180.72 180.07 L181.28 179.59 L181.84 179.13 L182.41 178.70 L183.00 178.30 L183.60 177.92 L184.21 177.53 L184.84 177.15 L185.47 176.79 L186.10 176.49 L186.74 176.24 L187.37 176.07 L188.00 176.00 L188.63 176.04 L189.27 176.17 L189.92 176.39 L190.56 176.67 L191.20 176.99 L191.82 177.33 L192.42 177.67 L193.00 178.00 L193.54 178.38 L194.04 178.84 L194.51 179.36 L194.97 179.88 L195.43 180.34 L195.92 180.72 L196.44 180.95 L197.00 181.00 L197.63 180.84 L198.32 180.52 L199.04 180.06 L199.78 179.50 L200.52 178.88 L201.23 178.23 L201.90 177.60 L202.50 177.00 L203.03 176.42 L203.52 175.81 L203.96 175.18 L204.38 174.53 L204.78 173.88 L205.17 173.24 L205.58 172.61 L206.00 172.00 L206.44 171.41 L206.88 170.84 L207.31 170.28 L207.75 169.72 L208.19 169.17 L208.62 168.61 L209.06 168.06 L209.50 167.50 L209.93 166.93 L210.35 166.35 L210.77 165.77 L211.19 165.19 L211.61 164.61 L212.05 164.05 L212.51 163.51 L213.00 163.00 L213.51 162.51 L214.03 162.03 L214.57 161.57 L215.12 161.12 L215.70 160.70 L216.28 160.28 L216.88 159.88 L217.50 159.50 L218.14 159.12 L218.82 158.74 L219.51 158.37 L220.22 158.02 L220.93 157.70 L221.64 157.41 L222.33 157.18 L223.00 157.00 L223.66 156.86 L224.31 156.75 L224.96 156.68 L225.59 156.64 L226.22 156.67 L226.83 156.76 L227.43 156.94 L228.00 157.20 L228.56 157.58 L229.12 158.06 L229.66 158.63 L230.19 159.27 L230.69 159.95 L231.16 160.64 L231.60 161.34 L232.00 162.00 L232.35 162.65 L232.65 163.31 L232.92 163.99 L233.16 164.68 L233.37 165.37 L233.58 166.07 L233.79 166.78 L234.00 167.50 L234.21 168.23 L234.41 168.98 L234.60 169.74 L234.78 170.50 L234.96 171.26 L235.14 172.02 L235.32 172.77 L235.50 173.50 L235.68 174.22 L235.84 174.93 L236.00 175.64 L236.16 176.34 L236.33 177.03 L236.52 177.71 L236.74 178.36 L237.00 179.00 L237.29 179.63 L237.59 180.27 L237.91 180.89 L238.25 181.50 L238.63 182.08 L239.04 182.61 L239.50 183.09 L240.00 183.50 L240.57 183.86 L241.21 184.18 L241.90 184.46 L242.62 184.69 L243.36 184.86 L244.10 184.98 L244.82 185.02 L245.50 185.00 L246.15 184.89 L246.80 184.68 L247.43 184.40 L248.06 184.06 L248.68 183.69 L249.30 183.29 L249.90 182.89 L250.50 182.50 L251.09 182.11 L251.66 181.71 L252.22 181.28 L252.78 180.84 L253.33 180.39 L253.89 179.93 L254.44 179.47 L255.00 179.00 L255.56 178.51 L256.10 177.98 L256.64 177.43 L257.19 176.88 L257.74 176.34 L258.30 175.84 L258.89 175.38 L259.50 175.00 L260.15 174.66 L260.83 174.33 L261.53 174.03 L262.25 173.78 L262.97 173.59 L263.67 173.46 L264.35 173.43 L265.00 173.50 L265.62 173.69 L266.24 173.99 L266.85 174.38 L267.44 174.84 L268.00 175.36 L268.54 175.90 L269.04 176.46 L269.50 177.00 L269.91 177.55 L270.28 178.13 L270.61 178.74 L270.91 179.38 L271.19 180.02 L271.46 180.68 L271.73 181.34 L272.00 182.00 L272.27 182.66 L272.54 183.33 L272.79 184.00 L273.03 184.69 L273.27 185.38 L273.51 186.08 L273.75 186.79 L274.00 187.50 L274.25 188.22 L274.50 188.95 L274.75 189.69 L275.00 190.44 L275.25 191.19 L275.50 191.95 L275.75 192.72 L276.00 193.50 L276.25 194.29 L276.50 195.10 L276.75 195.92 L277.00 196.75 L277.25 197.58 L277.50 198.40 L277.75 199.21 L278.00 200.00 L278.25 200.77 L278.50 201.54 L278.75 202.29 L279.00 203.03 L279.25 203.77 L279.50 204.51 L279.75 205.25 L280.00 206.00"/>
<path d="M61.50 343.00 L62.32 342.98 L63.16 342.96 L64.00 342.95 L64.84 342.94 L65.67 342.92 L66.48 342.89 L67.26 342.85 L68.00 342.80 L68.70 342.73 L69.36 342.66 L69.98 342.57 L70.59 342.48 L71.19 342.38 L71.79 342.26 L72.39 342.14 L73.00 342.00 L73.62 341.84 L74.25 341.67 L74.88 341.48 L75.50 341.27 L76.12 341.07 L76.75 340.87 L77.38 340.68 L78.00 340.50 L78.62 340.33 L79.25 340.17 L79.88 340.02 L80.50 339.87 L81.12 339.72 L81.75 339.58 L82.38 339.44 L83.00 339.30 L83.62 339.16 L84.25 339.03 L84.88 338.90 L85.50 338.77 L86.12 338.64 L86.75 338.52 L87.38 338.41 L88.00 338.30 L88.64 338.20 L89.31 338.11 L89.98 338.03 L90.66 337.96 L91.31 337.88 L91.93 337.80 L92.49 337.70 L93.00 337.60 L93.43 337.49 L93.80 337.40 L94.12 337.30 L94.41 337.19 L94.67 337.07 L94.93 336.92 L95.20 336.73 L95.50 336.50 L95.81 336.22 L96.12 335.90 L96.44 335.54 L96.75 335.15 L97.06 334.75 L97.38 334.33 L97.69 333.91 L98.00 333.50 L98.31 333.08 L98.62 332.64 L98.94 332.19 L99.25 331.74 L99.56 331.28 L99.88 330.84 L100.19 330.41 L100.50 330.00 L100.81 329.61 L101.11 329.22 L101.42 328.84 L101.72 328.47 L102.03 328.12 L102.34 327.79 L102.66 327.48 L103.00 327.20 L103.35 326.94 L103.71 326.69 L104.09 326.46 L104.47 326.25 L104.85 326.07 L105.24 325.93 L105.62 325.84 L106.00 325.80 L106.38 325.82 L106.75 325.88 L107.12 326.00 L107.50 326.15 L107.88 326.33 L108.25 326.54 L108.62 326.77 L109.00 327.00 L109.35 327.27 L109.68 327.58 L109.99 327.93 L110.31 328.29 L110.66 328.65 L111.04 329.00 L111.48 329.32 L112.00 329.60 L112.61 329.84 L113.29 330.04 L114.03 330.23 L114.81 330.40 L115.62 330.56 L116.43 330.71 L117.23 330.85 L118.00 331.00 L118.75 331.14 L119.50 331.26 L120.25 331.38 L121.00 331.49 L121.75 331.60 L122.50 331.72 L123.25 331.85 L124.00 332.00 L124.77 332.18 L125.57 332.37 L126.38 332.59 L127.19 332.81 L127.97 333.02 L128.71 333.24 L129.39 333.43 L130.00 333.60 L130.53 333.76 L130.98 333.93 L131.39 334.09 L131.75 334.24 L132.08 334.37 L132.39 334.46 L132.69 334.51 L133.00 334.50 L133.30 334.46 L133.57 334.42 L133.82 334.35 L134.06 334.24 L134.29 334.07 L134.52 333.82 L134.76 333.47 L135.00 333.00 L135.25 332.43 L135.50 331.78 L135.75 331.04 L136.00 330.22 L136.25 329.31 L136.50 328.30 L136.75 327.20 L137.00 326.00 L137.25 324.66 L137.50 323.17 L137.75 321.56 L138.00 319.88 L138.25 318.14 L138.50 316.39 L138.75 314.67 L139.00 313.00 L139.25 311.35 L139.51 309.68 L139.77 307.99 L140.03 306.31 L140.29 304.66 L140.54 303.04 L140.77 301.48 L141.00 300.00 L141.21 298.59 L141.42 297.22 L141.62 295.90 L141.81 294.62 L142.00 293.40 L142.17 292.22 L142.34 291.09 L142.50 290.00 L142.65 289.00 L142.77 288.09 L142.89 287.24 L143.00 286.44 L143.11 285.64 L143.23 284.82 L143.35 283.95 L143.50 283.00 L143.66 281.95 L143.83 280.82 L144.00 279.64 L144.19 278.44 L144.38 277.24 L144.58 276.09 L144.79 275.00 L145.00 274.00 L145.23 273.10 L145.46 272.25 L145.71 271.46 L145.97 270.72 L146.23 270.01 L146.49 269.32 L146.75 268.66 L147.00 268.00 L147.24 267.37 L147.46 266.77 L147.68 266.20 L147.91 265.66 L148.14 265.12 L148.39 264.59 L148.68 264.05 L149.00 263.50 L149.36 262.94 L149.75 262.38 L150.16 261.81 L150.59 261.25 L151.05 260.69 L151.52 260.12 L152.00 259.56 L152.50 259.00 L153.02 258.43 L153.57 257.84 L154.14 257.25 L154.72 256.66 L155.31 256.08 L155.89 255.52 L156.45 254.99 L157.00 254.50 L157.52 254.06 L158.01 253.66 L158.49 253.30 L158.97 252.96 L159.45 252.62 L159.94 252.27 L160.46 251.90 L161.00 251.50 L161.58 251.06 L162.19 250.59 L162.82 250.10 L163.47 249.61 L164.12 249.11 L164.76 248.62 L165.39 248.15 L166.00 247.70 L166.58 247.28 L167.15 246.89 L167.70 246.51 L168.25 246.14 L168.80 245.77 L169.35 245.39 L169.92 245.01 L170.50 244.60 L171.10 244.17 L171.73 243.73 L172.36 243.27 L173.00 242.81 L173.64 242.34 L174.27 241.88 L174.90 241.43 L175.50 241.00 L176.08 240.58 L176.65 240.17 L177.20 239.77 L177.75 239.38 L178.30 238.98 L178.85 238.59 L179.42 238.20 L180.00 237.80 L180.60 237.39 L181.21 236.96 L181.84 236.53 L182.47 236.10 L183.10 235.68 L183.74 235.29 L184.37 234.92 L185.00 234.60 L185.64 234.31 L186.30 234.05 L186.96 233.80 L187.62 233.59 L188.27 233.40 L188.89 233.24 L189.47 233.10 L190.00 233.00 L190.47 232.93 L190.89 232.91 L191.27 232.92 L191.62 232.95 L191.96 233.00 L192.30 233.07 L192.64 233.13 L193.00 233.20 L193.36 233.29 L193.70 233.42 L194.04 233.58 L194.38 233.74 L194.73 233.88 L195.11 233.98 L195.53 234.03 L196.00 234.00 L196.53 233.90 L197.11 233.76 L197.73 233.56 L198.38 233.33 L199.04 233.06 L199.70 232.74 L200.36 232.39 L201.00 232.00 L201.63 231.55 L202.27 231.03 L202.92 230.45 L203.56 229.84 L204.20 229.22 L204.82 228.61 L205.42 228.03 L206.00 227.50 L206.53 227.03 L207.00 226.61 L207.44 226.22 L207.88 225.83 L208.32 225.44 L208.81 225.01 L209.36 224.54 L210.00 224.00 L210.75 223.36 L211.59 222.62 L212.49 221.82 L213.44 220.99 L214.39 220.18 L215.32 219.42 L216.20 218.75 L217.00 218.20 L217.73 217.77 L218.41 217.44 L219.07 217.17 L219.69 216.96 L220.29 216.80 L220.87 216.66 L221.44 216.53 L222.00 216.40 L222.54 216.27 L223.05 216.16 L223.53 216.06 L224.00 215.99 L224.47 215.95 L224.95 215.93 L225.46 215.95 L226.00 216.00 L226.59 216.07 L227.23 216.16 L227.89 216.27 L228.56 216.41 L229.23 216.60 L229.87 216.83 L230.46 217.13 L231.00 217.50 L231.48 217.95 L231.91 218.48 L232.32 219.07 L232.69 219.72 L233.04 220.40 L233.37 221.10 L233.69 221.80 L234.00 222.50 L234.29 223.22 L234.54 223.98 L234.76 224.76 L234.97 225.56 L235.18 226.35 L235.42 227.12 L235.69 227.84 L236.00 228.50 L236.35 229.11 L236.72 229.71 L237.11 230.27 L237.53 230.80 L237.98 231.29 L238.45 231.74 L238.96 232.15 L239.50 232.50 L240.09 232.80 L240.73 233.06 L241.42 233.28 L242.12 233.46 L242.85 233.59 L243.58 233.67 L244.30 233.71 L245.00 233.70 L245.69 233.64 L246.40 233.51 L247.11 233.33 L247.81 233.11 L248.51 232.86 L249.20 232.58 L249.86 232.29 L250.50 232.00 L251.11 231.69 L251.68 231.33 L252.24 230.96 L252.78 230.56 L253.32 230.16 L253.86 229.76 L254.42 229.37 L255.00 229.00 L255.60 228.64 L256.20 228.26 L256.82 227.88 L257.44 227.51 L258.07 227.16 L258.70 226.83 L259.35 226.54 L260.00 226.30 L260.67 226.09 L261.36 225.89 L262.07 225.72 L262.78 225.58 L263.49 225.47 L264.18 225.42 L264.86 225.43 L265.50 225.50 L266.12 225.63 L266.73 225.82 L267.33 226.06 L267.91 226.36 L268.47 226.70 L269.00 227.09 L269.52 227.52 L270.00 228.00 L270.45 228.54 L270.87 229.15 L271.26 229.82 L271.62 230.53 L271.98 231.27 L272.32 232.02 L272.66 232.77 L273.00 233.50 L273.34 234.23 L273.66 234.96 L273.97 235.71 L274.28 236.47 L274.58 237.23 L274.89 237.99 L275.19 238.75 L275.50 239.50 L275.82 240.27 L276.16 241.08 L276.50 241.90 L276.84 242.72 L277.17 243.51 L277.48 244.25 L277.76 244.92 L278.00 245.50 L278.20 245.98 L278.36 246.37 L278.48 246.69 L278.59 246.97 L278.69 247.22 L278.79 247.46 L278.89 247.71 L279.00 248.00"/>
<path d="M294.00 291.00 L294.37 291.72 L294.73 292.47 L295.08 293.22 L295.44 293.98 L295.80 294.71 L296.18 295.40 L296.58 296.03 L297.00 296.60 L297.45 297.11 L297.93 297.57 L298.43 298.00 L298.94 298.38 L299.46 298.71 L299.98 298.99 L300.49 299.22 L301.00 299.40 L301.49 299.53 L301.98 299.63 L302.46 299.69 L302.94 299.69 L303.43 299.63 L303.93 299.50 L304.45 299.29 L305.00 299.00 L305.58 298.62 L306.18 298.14 L306.80 297.59 L307.44 296.98 L308.08 296.30 L308.73 295.57 L309.37 294.80 L310.00 294.00 L310.59 293.21 L311.13 292.45 L311.66 291.66 L312.19 290.81 L312.76 289.86 L313.40 288.77 L314.14 287.50 L315.00 286.00 L316.01 284.20 L317.15 282.11 L318.38 279.81 L319.69 277.38 L321.03 274.90 L322.38 272.45 L323.72 270.13 L325.00 268.00 L326.26 266.02 L327.55 264.08 L328.84 262.19 L330.12 260.38 L331.40 258.63 L332.64 256.98 L333.85 255.44 L335.00 254.00 L336.11 252.67 L337.19 251.45 L338.23 250.31 L339.25 249.28 L340.23 248.33 L341.19 247.47 L342.11 246.69 L343.00 246.00 L343.85 245.41 L344.64 244.92 L345.40 244.52 L346.12 244.21 L346.84 243.98 L347.55 243.80 L348.26 243.68 L349.00 243.60 L349.75 243.58 L350.50 243.62 L351.25 243.73 L352.00 243.90 L352.75 244.12 L353.50 244.38 L354.25 244.67 L355.00 245.00 L355.75 245.37 L356.50 245.79 L357.25 246.27 L358.00 246.78 L358.75 247.31 L359.50 247.87 L360.25 248.43 L361.00 249.00 L361.75 249.58 L362.50 250.18 L363.25 250.80 L364.00 251.44 L364.75 252.08 L365.50 252.73 L366.25 253.37 L367.00 254.00 L367.76 254.64 L368.52 255.31 L369.29 255.99 L370.06 256.66 L370.82 257.32 L371.57 257.93 L372.30 258.50 L373.00 259.00 L373.68 259.45 L374.34 259.86 L374.99 260.23 L375.62 260.56 L376.24 260.85 L376.84 261.09 L377.43 261.27 L378.00 261.40 L378.55 261.45 L379.07 261.42 L379.57 261.33 L380.06 261.20 L380.54 261.04 L381.02 260.88 L381.51 260.72 L382.00 260.60"/>
<path d="M294.00 310.00 L294.37 310.49 L294.73 310.99 L295.08 311.50 L295.44 312.00 L295.80 312.49 L296.18 312.96 L296.58 313.40 L297.00 313.80 L297.45 314.17 L297.93 314.52 L298.43 314.86 L298.94 315.16 L299.46 315.44 L299.98 315.67 L300.49 315.86 L301.00 316.00 L301.49 316.10 L301.98 316.17 L302.46 316.21 L302.94 316.21 L303.43 316.15 L303.93 316.04 L304.45 315.85 L305.00 315.60 L305.58 315.26 L306.18 314.85 L306.80 314.36 L307.44 313.82 L308.08 313.23 L308.73 312.61 L309.37 311.96 L310.00 311.30 L310.59 310.65 L311.13 310.00 L311.66 309.33 L312.19 308.63 L312.76 307.87 L313.40 307.02 L314.14 306.07 L315.00 305.00 L316.04 303.73 L317.24 302.26 L318.56 300.65 L319.94 298.98 L321.32 297.31 L322.66 295.71 L323.91 294.25 L325.00 293.00 L325.95 291.95 L326.80 291.03 L327.59 290.22 L328.31 289.50 L329.00 288.84 L329.66 288.22 L330.33 287.61 L331.00 287.00 L331.67 286.41 L332.32 285.87 L332.95 285.37 L333.56 284.89 L334.17 284.43 L334.77 283.97 L335.38 283.50 L336.00 283.00 L336.62 282.46 L337.25 281.90 L337.88 281.33 L338.50 280.76 L339.12 280.19 L339.75 279.66 L340.38 279.15 L341.00 278.70 L341.62 278.29 L342.25 277.91 L342.88 277.56 L343.50 277.24 L344.12 276.94 L344.75 276.67 L345.38 276.42 L346.00 276.20 L346.62 275.99 L347.24 275.80 L347.85 275.63 L348.47 275.49 L349.09 275.38 L349.71 275.30 L350.35 275.28 L351.00 275.30 L351.66 275.38 L352.34 275.51 L353.03 275.69 L353.72 275.91 L354.42 276.15 L355.11 276.42 L355.81 276.71 L356.50 277.00 L357.19 277.31 L357.89 277.66 L358.58 278.03 L359.28 278.42 L359.97 278.82 L360.66 279.22 L361.34 279.62 L362.00 280.00 L362.65 280.37 L363.27 280.74 L363.89 281.10 L364.50 281.47 L365.11 281.84 L365.73 282.21 L366.35 282.60 L367.00 283.00 L367.66 283.42 L368.34 283.88 L369.03 284.34 L369.72 284.81 L370.42 285.28 L371.11 285.72 L371.81 286.13 L372.50 286.50 L373.20 286.83 L373.92 287.15 L374.65 287.44 L375.38 287.71 L376.08 287.96 L376.77 288.17 L377.41 288.35 L378.00 288.50 L378.53 288.60 L379.02 288.66 L379.46 288.68 L379.88 288.67 L380.28 288.65 L380.67 288.62 L381.08 288.60 L381.50 288.60"/>
<path d="M410.50 317.50 L411.06 318.11 L411.61 318.80 L412.17 319.52 L412.72 320.22 L413.28 320.86 L413.84 321.40 L414.41 321.80 L415.00 322.00 L415.60 321.98 L416.23 321.78 L416.86 321.42 L417.50 320.97 L418.14 320.45 L418.77 319.93 L419.40 319.43 L420.00 319.00 L420.59 318.62 L421.16 318.25 L421.72 317.88 L422.28 317.50 L422.83 317.12 L423.39 316.75 L423.94 316.38 L424.50 316.00 L425.06 315.62 L425.60 315.24 L426.14 314.85 L426.69 314.47 L427.24 314.09 L427.80 313.71 L428.39 313.35 L429.00 313.00 L429.64 312.66 L430.30 312.34 L430.99 312.03 L431.69 311.73 L432.39 311.43 L433.10 311.13 L433.81 310.82 L434.50 310.50 L435.19 310.17 L435.88 309.84 L436.56 309.51 L437.25 309.17 L437.94 308.83 L438.62 308.49 L439.31 308.14 L440.00 307.80 L440.69 307.46 L441.39 307.11 L442.08 306.77 L442.78 306.42 L443.47 306.07 L444.16 305.72 L444.84 305.36 L445.50 305.00 L446.15 304.63 L446.79 304.26 L447.41 303.88 L448.03 303.50 L448.65 303.12 L449.26 302.74 L449.88 302.37 L450.50 302.00 L451.14 301.64 L451.79 301.27 L452.44 300.91 L453.09 300.55 L453.73 300.20 L454.36 299.85 L454.95 299.52 L455.50 299.20 L455.99 298.90 L456.42 298.61 L456.81 298.34 L457.19 298.08 L457.57 297.82 L457.98 297.56 L458.45 297.29 L459.00 297.00 L459.63 296.69 L460.32 296.35 L461.07 296.00 L461.84 295.64 L462.64 295.30 L463.44 294.99 L464.23 294.72 L465.00 294.50 L465.76 294.32 L466.52 294.16 L467.29 294.02 L468.06 293.92 L468.82 293.86 L469.57 293.85 L470.30 293.89 L471.00 294.00 L471.67 294.18 L472.32 294.42 L472.95 294.72 L473.56 295.08 L474.17 295.47 L474.77 295.89 L475.38 296.34 L476.00 296.80 L476.63 297.31 L477.26 297.88 L477.90 298.50 L478.53 299.14 L479.16 299.78 L479.79 300.40 L480.40 300.98 L481.00 301.50 L481.59 301.95 L482.16 302.36 L482.72 302.73 L483.28 303.07 L483.83 303.41 L484.39 303.75 L484.94 304.11 L485.50 304.50 L486.06 304.92 L486.60 305.38 L487.14 305.84 L487.69 306.31 L488.24 306.78 L488.80 307.22 L489.39 307.63 L490.00 308.00 L490.64 308.32 L491.32 308.59 L492.01 308.84 L492.72 309.06 L493.43 309.28 L494.14 309.50 L494.83 309.74 L495.50 310.00 L496.15 310.29 L496.79 310.59 L497.41 310.91 L498.03 311.23 L498.65 311.56 L499.26 311.88 L499.88 312.19 L500.50 312.50 L501.13 312.82 L501.75 313.16 L502.38 313.51 L503.01 313.86 L503.63 314.17 L504.26 314.45 L504.88 314.66 L505.50 314.80 L506.12 314.85 L506.73 314.82 L507.34 314.73 L507.96 314.59 L508.57 314.44 L509.18 314.27 L509.79 314.12 L510.40 314.00"/>
<path d="M410.00 334.40 L410.09 334.30 L410.13 334.20 L410.16 334.10 L410.19 334.00 L410.26 333.90 L410.40 333.80 L410.64 333.70 L411.00 333.60 L411.52 333.51 L412.17 333.45 L412.93 333.39 L413.75 333.33 L414.60 333.25 L415.45 333.14 L416.26 333.00 L417.00 332.80 L417.67 332.55 L418.32 332.25 L418.95 331.91 L419.56 331.54 L420.17 331.15 L420.77 330.76 L421.38 330.37 L422.00 330.00 L422.62 329.63 L423.25 329.25 L423.88 328.87 L424.50 328.48 L425.12 328.10 L425.75 327.72 L426.38 327.35 L427.00 327.00 L427.62 326.66 L428.24 326.33 L428.85 326.00 L429.47 325.69 L430.09 325.38 L430.71 325.08 L431.35 324.79 L432.00 324.50 L432.66 324.23 L433.34 323.98 L434.03 323.74 L434.72 323.51 L435.42 323.28 L436.11 323.04 L436.81 322.78 L437.50 322.50 L438.19 322.20 L438.88 321.87 L439.56 321.53 L440.25 321.19 L440.94 320.84 L441.62 320.48 L442.31 320.14 L443.00 319.80 L443.69 319.47 L444.38 319.15 L445.06 318.82 L445.75 318.50 L446.44 318.18 L447.12 317.85 L447.81 317.53 L448.50 317.20 L449.19 316.86 L449.89 316.50 L450.58 316.14 L451.28 315.78 L451.97 315.43 L452.66 315.09 L453.34 314.78 L454.00 314.50 L454.65 314.26 L455.27 314.05 L455.89 313.86 L456.50 313.69 L457.11 313.53 L457.73 313.37 L458.35 313.19 L459.00 313.00 L459.66 312.78 L460.34 312.54 L461.03 312.29 L461.72 312.04 L462.42 311.79 L463.11 311.57 L463.81 311.36 L464.50 311.20 L465.19 311.06 L465.88 310.93 L466.56 310.82 L467.25 310.73 L467.94 310.66 L468.62 310.63 L469.31 310.64 L470.00 310.70 L470.69 310.81 L471.39 310.96 L472.08 311.15 L472.78 311.38 L473.47 311.64 L474.16 311.91 L474.84 312.20 L475.50 312.50 L476.15 312.82 L476.77 313.18 L477.39 313.56 L478.00 313.96 L478.61 314.36 L479.23 314.76 L479.85 315.14 L480.50 315.50 L481.17 315.84 L481.85 316.17 L482.55 316.50 L483.25 316.81 L483.95 317.12 L484.65 317.42 L485.33 317.71 L486.00 318.00 L486.65 318.27 L487.27 318.53 L487.89 318.78 L488.50 319.02 L489.11 319.26 L489.73 319.50 L490.35 319.74 L491.00 320.00 L491.66 320.27 L492.34 320.54 L493.03 320.82 L493.72 321.10 L494.42 321.38 L495.11 321.66 L495.81 321.93 L496.50 322.20 L497.18 322.46 L497.86 322.72 L498.54 322.97 L499.22 323.23 L499.90 323.47 L500.59 323.72 L501.29 323.96 L502.00 324.20 L502.75 324.44 L503.55 324.69 L504.37 324.94 L505.19 325.19 L505.99 325.42 L506.74 325.64 L507.42 325.83 L508.00 326.00 L508.47 326.13 L508.85 326.23 L509.16 326.31 L509.43 326.38 L509.66 326.43 L509.88 326.48 L510.12 326.53 L510.40 326.60"/>
</g>
<rect x="61.4" y="10.4" width="471.1" height="334.9" fill="none" stroke="#505050" stroke-width="1.1"/>
<path d="M94.3 345.2v-2.5M94.3 10.4v2.5M149.0 345.2v-2.5M149.0 10.4v2.5M203.8 345.2v-2.5M203.8 10.4v2.5M258.6 345.2v-2.5M258.6 10.4v2.5M313.4 345.2v-2.5M313.4 10.4v2.5M368.2 345.2v-2.5M368.2 10.4v2.5M422.9 345.2v-2.5M422.9 10.4v2.5M477.7 345.2v-2.5M477.7 10.4v2.5M61.4 311.8h2.5M532.5 311.8h-2.5M61.4 278.3h2.5M532.5 278.3h-2.5M61.4 244.8h2.5M532.5 244.8h-2.5M61.4 211.3h2.5M532.5 211.3h-2.5M61.4 177.8h2.5M532.5 177.8h-2.5M61.4 144.3h2.5M532.5 144.3h-2.5M61.4 110.9h2.5M532.5 110.9h-2.5M61.4 77.4h2.5M532.5 77.4h-2.5M61.4 43.9h2.5M532.5 43.9h-2.5" stroke="#000" stroke-opacity="0.11" stroke-width="1" fill="none"/>
<g font-family="'Liberation Serif', 'DejaVu Serif', serif" font-size="14px" fill="#000" stroke="#000" stroke-width="0.3">
<text transform="translate(94.8 357.8) rotate(0.03) scale(1.05 1.02)" text-anchor="middle">500</text>
<text transform="translate(150.0 357.8) rotate(0.03) scale(1.05 1.02)" text-anchor="middle">750</text>
<text transform="translate(205.0 357.8) rotate(0.03) scale(1.05 1.02)" text-anchor="middle">1000</text>
<text transform="translate(260.1 357.8) rotate(0.03) scale(1.05 1.02)" text-anchor="middle">1250</text>
<text transform="translate(314.9 357.8) rotate(0.03) scale(1.05 1.02)" text-anchor="middle">1500</text>
<text transform="translate(369.7 357.8) rotate(0.03) scale(1.05 1.02)" text-anchor="middle">1750</text>
<text transform="translate(423.2 357.8) rotate(0.03) scale(1.05 1.02)" text-anchor="middle">2000</text>
<text transform="translate(478.0 357.8) rotate(0.03) scale(1.05 1.02)" text-anchor="middle">2250</text>
<text transform="translate(532.5 357.8) rotate(0.03) scale(1.05 1.02)" text-anchor="middle">2500</text>
<text transform="translate(60.0 349.20) rotate(0.03) scale(0.97 1.09)" text-anchor="end">0.0</text>
<text transform="translate(60.0 315.64) rotate(0.03) scale(0.97 1.09)" text-anchor="end">0.1</text>
<text transform="translate(60.0 282.09) rotate(0.03) scale(0.97 1.09)" text-anchor="end">0.2</text>
<text transform="translate(60.0 248.53) rotate(0.03) scale(0.97 1.09)" text-anchor="end">0.3</text>
<text transform="translate(60.0 214.98) rotate(0.03) scale(0.97 1.09)" text-anchor="end">0.4</text>
<text transform="translate(60.0 181.42) rotate(0.03) scale(0.97 1.09)" text-anchor="end">0.5</text>
<text transform="translate(60.0 147.87) rotate(0.03) scale(0.97 1.09)" text-anchor="end">0.6</text>
<text transform="translate(60.0 114.31) rotate(0.03) scale(0.97 1.09)" text-anchor="end">0.7</text>
<text transform="translate(60.0 80.76) rotate(0.03) scale(0.97 1.09)" text-anchor="end">0.8</text>
<text transform="translate(60.0 47.20) rotate(0.03) scale(0.97 1.09)" text-anchor="end">0.9</text>
<text transform="translate(61.2 13.65) rotate(0.03) scale(0.97 1.09)" text-anchor="end">1.0</text>
</g>
<g font-family="'Liberation Serif', 'DejaVu Serif', serif" font-size="17.4px" fill="#000" stroke="#000" stroke-width="0.3">
<text transform="translate(298.0 393.4) rotate(0.03)" font-size="17.4px" text-anchor="middle">Wavelength [nm]</text>
<text transform="translate(17.6 176.7) rotate(-90.03) scale(1 1.04)" font-size="17.3px" text-anchor="middle">Reflectance [-]</text>
</g>
<path d="M450 28.3H472M450 49.2H472" stroke="#ffd9f7" stroke-opacity="0.38" stroke-width="8" fill="none"/>
<line x1="450" y1="28.3" x2="472" y2="28.3" stroke="#8443cc" stroke-width="1.5"/>
<line x1="450" y1="49.2" x2="472" y2="49.2" stroke="#8443cc" stroke-width="1.5" stroke-dasharray="3.1 2.75"/>
<g font-family="'Liberation Serif', 'DejaVu Serif', serif" font-size="14.5px" font-style="italic" fill="#000" stroke="#000" stroke-width="0.18">
<text transform="translate(488 33.3) rotate(0.03) scale(1.22 1)">μ</text>
<text transform="translate(488 54.3) rotate(0.03) scale(1.22 1)">μ</text>
<text transform="translate(498.2 54.5) rotate(0.03) scale(1.2 1)" font-style="normal" font-size="18px" stroke-width="0.1">±</text>
<text transform="translate(511.2 54.3) rotate(0.03) scale(1.1 1)">σ</text>
</g>
</svg>
</body></html>
